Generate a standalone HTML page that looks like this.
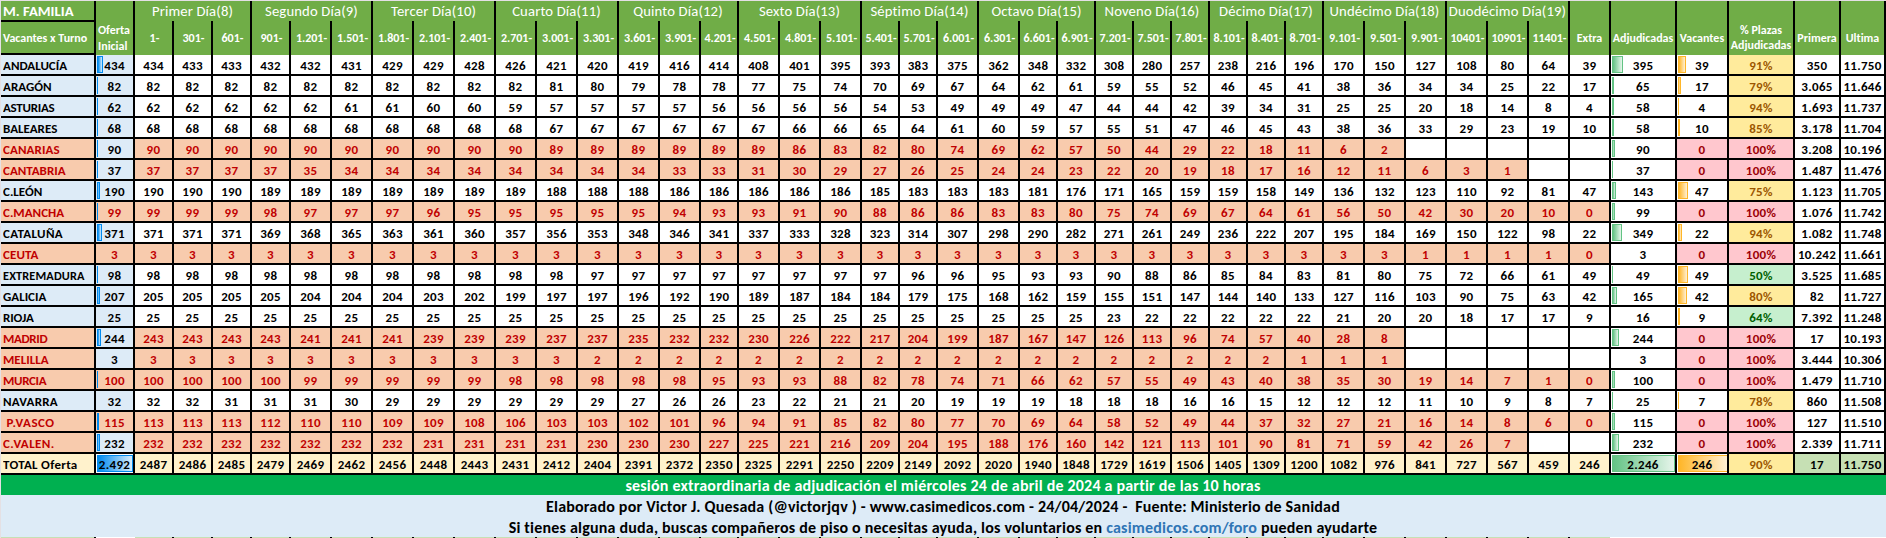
<!DOCTYPE html><html><head><meta charset="utf-8"><title>M. FAMILIA</title><style>
*{margin:0;padding:0}
html,body{width:1886px;height:538px;overflow:hidden;background:#fff}
body{position:relative;font-variant-ligatures:none;font-feature-settings:'liga' 0,'clig' 0;font-family:Carlito,"Liberation Sans",sans-serif;font-weight:700;font-size:13px}
#g{position:absolute;left:0;top:0;width:1886px;height:538px;background:#fff}
i,b{position:absolute;display:block;font-style:normal}
b{white-space:nowrap;text-align:center;overflow:visible;color:#000}
b.tl{text-align:left;letter-spacing:0;transform:scaleY(0.9);transform-origin:50% 12px}
b.t{letter-spacing:0.3px;transform:scaleY(0.9);transform-origin:50% 12px}
b.hl{text-align:left;color:#fff;font-size:12px}
b.hc{color:#fff;font-size:12px}
b.hd{font-weight:400;font-size:14.67px;color:#fff;letter-spacing:0.15px}
b.hm{font-size:14.67px;color:#fff;text-align:left}
b.hs{color:#fff;font-size:12px}
b.hp{color:#fff;font-size:12px}
b.ft{font-size:16px;letter-spacing:0.2px}
u{text-decoration:none;color:#2F75B5}
body.nc b{transform:scaleX(0.9)}
body.nc b.tl,body.nc b.hl,body.nc b.hm{transform-origin:0 50%}
body.nc b.t{transform:scale(0.9,0.9)}
body.nc b.tl{transform:scale(0.9,0.9);transform-origin:0 12px}
</style></head><body><div id="g"><i style="left:0;top:0;width:1886px;height:1px;background:#E4E0E4"></i><i style="left:0;top:0;width:1px;height:538px;background:#E4E0E4"></i><i style="left:1px;top:1px;width:1883px;height:54px;background:#70AD47"></i><b class="hm" style="left:3px;top:2px;width:90px;height:18px;line-height:18px">M. FAMILIA</b><i style="left:1px;top:20px;width:93px;height:2px;background:#000"></i><b class="hl" style="left:3px;top:31px;width:90px;height:14px;line-height:14px">Vacantes x Turno</b><i style="left:1px;top:53px;width:93px;height:2px;background:#000"></i><b class="hl" style="left:98px;top:23px;width:37px;height:14px;line-height:14px">Oferta</b><b class="hl" style="left:98px;top:39px;width:37px;height:14px;line-height:14px">Inicial</b><b class="hd" style="left:135px;top:2px;width:115px;height:18px;line-height:18px">Primer Día(8)</b><b class="hd" style="left:252px;top:2px;width:119px;height:18px;line-height:18px">Segundo Día(9)</b><b class="hd" style="left:373px;top:2px;width:121px;height:18px;line-height:18px">Tercer Día(10)</b><b class="hd" style="left:496px;top:2px;width:121px;height:18px;line-height:18px">Cuarto Día(11)</b><b class="hd" style="left:619px;top:2px;width:118px;height:18px;line-height:18px">Quinto Día(12)</b><b class="hd" style="left:739px;top:2px;width:121px;height:18px;line-height:18px">Sexto Día(13)</b><b class="hd" style="left:862px;top:2px;width:115px;height:18px;line-height:18px">Séptimo Día(14)</b><b class="hd" style="left:979px;top:2px;width:115px;height:18px;line-height:18px">Octavo Día(15)</b><b class="hd" style="left:1096px;top:2px;width:112px;height:18px;line-height:18px">Noveno Día(16)</b><b class="hd" style="left:1210px;top:2px;width:112px;height:18px;line-height:18px">Décimo Día(17)</b><b class="hd" style="left:1324px;top:2px;width:121px;height:18px;line-height:18px">Undécimo Día(18)</b><b class="hd" style="left:1447px;top:2px;width:121px;height:18px;line-height:18px">Duodécimo Día(19)</b><b class="hs" style="left:136px;top:31px;width:37px;height:14px;line-height:14px">1-</b><b class="hs" style="left:175px;top:31px;width:37px;height:14px;line-height:14px">301-</b><b class="hs" style="left:214px;top:31px;width:37px;height:14px;line-height:14px">601-</b><b class="hs" style="left:253px;top:31px;width:37px;height:14px;line-height:14px">901-</b><b class="hs" style="left:292px;top:31px;width:39px;height:14px;line-height:14px">1.201-</b><b class="hs" style="left:333px;top:31px;width:39px;height:14px;line-height:14px">1.501-</b><b class="hs" style="left:374px;top:31px;width:39px;height:14px;line-height:14px">1.801-</b><b class="hs" style="left:415px;top:31px;width:39px;height:14px;line-height:14px">2.101-</b><b class="hs" style="left:456px;top:31px;width:39px;height:14px;line-height:14px">2.401-</b><b class="hs" style="left:497px;top:31px;width:39px;height:14px;line-height:14px">2.701-</b><b class="hs" style="left:538px;top:31px;width:39px;height:14px;line-height:14px">3.001-</b><b class="hs" style="left:579px;top:31px;width:39px;height:14px;line-height:14px">3.301-</b><b class="hs" style="left:620px;top:31px;width:39px;height:14px;line-height:14px">3.601-</b><b class="hs" style="left:661px;top:31px;width:39px;height:14px;line-height:14px">3.901-</b><b class="hs" style="left:702px;top:31px;width:36px;height:14px;line-height:14px">4.201-</b><b class="hs" style="left:740px;top:31px;width:39px;height:14px;line-height:14px">4.501-</b><b class="hs" style="left:781px;top:31px;width:39px;height:14px;line-height:14px">4.801-</b><b class="hs" style="left:822px;top:31px;width:39px;height:14px;line-height:14px">5.101-</b><b class="hs" style="left:863px;top:31px;width:36px;height:14px;line-height:14px">5.401-</b><b class="hs" style="left:901px;top:31px;width:36px;height:14px;line-height:14px">5.701-</b><b class="hs" style="left:939px;top:31px;width:39px;height:14px;line-height:14px">6.001-</b><b class="hs" style="left:980px;top:31px;width:39px;height:14px;line-height:14px">6.301-</b><b class="hs" style="left:1021px;top:31px;width:36px;height:14px;line-height:14px">6.601-</b><b class="hs" style="left:1059px;top:31px;width:36px;height:14px;line-height:14px">6.901-</b><b class="hs" style="left:1097px;top:31px;width:36px;height:14px;line-height:14px">7.201-</b><b class="hs" style="left:1135px;top:31px;width:36px;height:14px;line-height:14px">7.501-</b><b class="hs" style="left:1173px;top:31px;width:36px;height:14px;line-height:14px">7.801-</b><b class="hs" style="left:1211px;top:31px;width:36px;height:14px;line-height:14px">8.101-</b><b class="hs" style="left:1249px;top:31px;width:36px;height:14px;line-height:14px">8.401-</b><b class="hs" style="left:1287px;top:31px;width:36px;height:14px;line-height:14px">8.701-</b><b class="hs" style="left:1325px;top:31px;width:39px;height:14px;line-height:14px">9.101-</b><b class="hs" style="left:1366px;top:31px;width:39px;height:14px;line-height:14px">9.501-</b><b class="hs" style="left:1407px;top:31px;width:39px;height:14px;line-height:14px">9.901-</b><b class="hs" style="left:1448px;top:31px;width:39px;height:14px;line-height:14px">10401-</b><b class="hs" style="left:1489px;top:31px;width:39px;height:14px;line-height:14px">10901-</b><b class="hs" style="left:1530px;top:31px;width:39px;height:14px;line-height:14px">11401-</b><b class="hc" style="left:1570px;top:31px;width:39px;height:14px;line-height:14px">Extra</b><b class="hc" style="left:1611px;top:31px;width:64px;height:14px;line-height:14px">Adjudicadas</b><b class="hc" style="left:1677px;top:31px;width:50px;height:14px;line-height:14px">Vacantes</b><b class="hc" style="left:1795px;top:31px;width:44px;height:14px;line-height:14px">Primera</b><b class="hc" style="left:1841px;top:31px;width:43px;height:14px;line-height:14px">Ultima</b><b class="hp" style="left:1729px;top:23px;width:64px;height:14px;line-height:14px">% Plazas</b><b class="hp" style="left:1729px;top:38px;width:64px;height:14px;line-height:14px">Adjudicadas</b><i style="left:1px;top:55px;width:93px;height:19px;background:#DDEBF7"></i><b class="tl" style="left:3px;top:58px;width:91px;height:15px;line-height:15px;color:#000">ANDALUCÍA</b><i style="left:96px;top:55px;width:37px;height:19px;background:#DDEBF7"></i><i style="left:97px;top:56px;width:4px;height:15px;border:1px solid #008AEF;background:linear-gradient(90deg,#008AEF,#D6ECFC)"></i><b class="t" style="left:96px;top:58px;width:37px;height:15px;line-height:15px;color:#000">434</b><b class="t" style="left:135px;top:58px;width:37px;height:15px;line-height:15px">434</b><b class="t" style="left:174px;top:58px;width:37px;height:15px;line-height:15px">433</b><b class="t" style="left:213px;top:58px;width:37px;height:15px;line-height:15px">433</b><b class="t" style="left:252px;top:58px;width:37px;height:15px;line-height:15px">432</b><b class="t" style="left:291px;top:58px;width:39px;height:15px;line-height:15px">432</b><b class="t" style="left:332px;top:58px;width:39px;height:15px;line-height:15px">431</b><b class="t" style="left:373px;top:58px;width:39px;height:15px;line-height:15px">429</b><b class="t" style="left:414px;top:58px;width:39px;height:15px;line-height:15px">429</b><b class="t" style="left:455px;top:58px;width:39px;height:15px;line-height:15px">428</b><b class="t" style="left:496px;top:58px;width:39px;height:15px;line-height:15px">426</b><b class="t" style="left:537px;top:58px;width:39px;height:15px;line-height:15px">421</b><b class="t" style="left:578px;top:58px;width:39px;height:15px;line-height:15px">420</b><b class="t" style="left:619px;top:58px;width:39px;height:15px;line-height:15px">419</b><b class="t" style="left:660px;top:58px;width:39px;height:15px;line-height:15px">416</b><b class="t" style="left:701px;top:58px;width:36px;height:15px;line-height:15px">414</b><b class="t" style="left:739px;top:58px;width:39px;height:15px;line-height:15px">408</b><b class="t" style="left:780px;top:58px;width:39px;height:15px;line-height:15px">401</b><b class="t" style="left:821px;top:58px;width:39px;height:15px;line-height:15px">395</b><b class="t" style="left:862px;top:58px;width:36px;height:15px;line-height:15px">393</b><b class="t" style="left:900px;top:58px;width:36px;height:15px;line-height:15px">383</b><b class="t" style="left:938px;top:58px;width:39px;height:15px;line-height:15px">375</b><b class="t" style="left:979px;top:58px;width:39px;height:15px;line-height:15px">362</b><b class="t" style="left:1020px;top:58px;width:36px;height:15px;line-height:15px">348</b><b class="t" style="left:1058px;top:58px;width:36px;height:15px;line-height:15px">332</b><b class="t" style="left:1096px;top:58px;width:36px;height:15px;line-height:15px">308</b><b class="t" style="left:1134px;top:58px;width:36px;height:15px;line-height:15px">280</b><b class="t" style="left:1172px;top:58px;width:36px;height:15px;line-height:15px">257</b><b class="t" style="left:1210px;top:58px;width:36px;height:15px;line-height:15px">238</b><b class="t" style="left:1248px;top:58px;width:36px;height:15px;line-height:15px">216</b><b class="t" style="left:1286px;top:58px;width:36px;height:15px;line-height:15px">196</b><b class="t" style="left:1324px;top:58px;width:39px;height:15px;line-height:15px">170</b><b class="t" style="left:1365px;top:58px;width:39px;height:15px;line-height:15px">150</b><b class="t" style="left:1406px;top:58px;width:39px;height:15px;line-height:15px">127</b><b class="t" style="left:1447px;top:58px;width:39px;height:15px;line-height:15px">108</b><b class="t" style="left:1488px;top:58px;width:39px;height:15px;line-height:15px">80</b><b class="t" style="left:1529px;top:58px;width:39px;height:15px;line-height:15px">64</b><b class="t" style="left:1570px;top:58px;width:39px;height:15px;line-height:15px">39</b><i style="left:1612px;top:56px;width:9px;height:15px;border:1px solid #63C384;background:linear-gradient(90deg,#63C384,#E6F5EB)"></i><b class="t" style="left:1611px;top:58px;width:64px;height:15px;line-height:15px">395</b><i style="left:1678px;top:56px;width:6px;height:15px;border:1px solid #FFB628;background:linear-gradient(90deg,#FFB628,#FFF0D4)"></i><b class="t" style="left:1677px;top:58px;width:50px;height:15px;line-height:15px">39</b><i style="left:1729px;top:55px;width:64px;height:19px;background:#FFEB9C"></i><b class="t" style="left:1729px;top:58px;width:64px;height:15px;line-height:15px;color:#9C5700">91%</b><b class="t" style="left:1795px;top:58px;width:44px;height:15px;line-height:15px">350</b><b class="t" style="left:1841px;top:58px;width:43px;height:15px;line-height:15px">11.750</b><i style="left:1px;top:74px;width:1885px;height:2px;background:#000"></i><i style="left:1px;top:76px;width:93px;height:19px;background:#DDEBF7"></i><b class="tl" style="left:3px;top:79px;width:91px;height:15px;line-height:15px;color:#000">ARAGÓN</b><i style="left:96px;top:76px;width:37px;height:19px;background:#DDEBF7"></i><i style="left:97px;top:77px;width:1px;height:17px;background:#008AEF"></i><b class="t" style="left:96px;top:79px;width:37px;height:15px;line-height:15px;color:#000">82</b><b class="t" style="left:135px;top:79px;width:37px;height:15px;line-height:15px">82</b><b class="t" style="left:174px;top:79px;width:37px;height:15px;line-height:15px">82</b><b class="t" style="left:213px;top:79px;width:37px;height:15px;line-height:15px">82</b><b class="t" style="left:252px;top:79px;width:37px;height:15px;line-height:15px">82</b><b class="t" style="left:291px;top:79px;width:39px;height:15px;line-height:15px">82</b><b class="t" style="left:332px;top:79px;width:39px;height:15px;line-height:15px">82</b><b class="t" style="left:373px;top:79px;width:39px;height:15px;line-height:15px">82</b><b class="t" style="left:414px;top:79px;width:39px;height:15px;line-height:15px">82</b><b class="t" style="left:455px;top:79px;width:39px;height:15px;line-height:15px">82</b><b class="t" style="left:496px;top:79px;width:39px;height:15px;line-height:15px">82</b><b class="t" style="left:537px;top:79px;width:39px;height:15px;line-height:15px">81</b><b class="t" style="left:578px;top:79px;width:39px;height:15px;line-height:15px">80</b><b class="t" style="left:619px;top:79px;width:39px;height:15px;line-height:15px">79</b><b class="t" style="left:660px;top:79px;width:39px;height:15px;line-height:15px">78</b><b class="t" style="left:701px;top:79px;width:36px;height:15px;line-height:15px">78</b><b class="t" style="left:739px;top:79px;width:39px;height:15px;line-height:15px">77</b><b class="t" style="left:780px;top:79px;width:39px;height:15px;line-height:15px">75</b><b class="t" style="left:821px;top:79px;width:39px;height:15px;line-height:15px">74</b><b class="t" style="left:862px;top:79px;width:36px;height:15px;line-height:15px">70</b><b class="t" style="left:900px;top:79px;width:36px;height:15px;line-height:15px">69</b><b class="t" style="left:938px;top:79px;width:39px;height:15px;line-height:15px">67</b><b class="t" style="left:979px;top:79px;width:39px;height:15px;line-height:15px">64</b><b class="t" style="left:1020px;top:79px;width:36px;height:15px;line-height:15px">62</b><b class="t" style="left:1058px;top:79px;width:36px;height:15px;line-height:15px">61</b><b class="t" style="left:1096px;top:79px;width:36px;height:15px;line-height:15px">59</b><b class="t" style="left:1134px;top:79px;width:36px;height:15px;line-height:15px">55</b><b class="t" style="left:1172px;top:79px;width:36px;height:15px;line-height:15px">52</b><b class="t" style="left:1210px;top:79px;width:36px;height:15px;line-height:15px">46</b><b class="t" style="left:1248px;top:79px;width:36px;height:15px;line-height:15px">45</b><b class="t" style="left:1286px;top:79px;width:36px;height:15px;line-height:15px">41</b><b class="t" style="left:1324px;top:79px;width:39px;height:15px;line-height:15px">38</b><b class="t" style="left:1365px;top:79px;width:39px;height:15px;line-height:15px">36</b><b class="t" style="left:1406px;top:79px;width:39px;height:15px;line-height:15px">34</b><b class="t" style="left:1447px;top:79px;width:39px;height:15px;line-height:15px">34</b><b class="t" style="left:1488px;top:79px;width:39px;height:15px;line-height:15px">25</b><b class="t" style="left:1529px;top:79px;width:39px;height:15px;line-height:15px">22</b><b class="t" style="left:1570px;top:79px;width:39px;height:15px;line-height:15px">17</b><i style="left:1612px;top:77px;width:2px;height:17px;background:#63C384"></i><b class="t" style="left:1611px;top:79px;width:64px;height:15px;line-height:15px">65</b><i style="left:1678px;top:77px;width:1px;height:15px;border:1px solid #FFB628;background:linear-gradient(90deg,#FFB628,#FFF0D4)"></i><b class="t" style="left:1677px;top:79px;width:50px;height:15px;line-height:15px">17</b><i style="left:1729px;top:76px;width:64px;height:19px;background:#FFEB9C"></i><b class="t" style="left:1729px;top:79px;width:64px;height:15px;line-height:15px;color:#9C5700">79%</b><b class="t" style="left:1795px;top:79px;width:44px;height:15px;line-height:15px">3.065</b><b class="t" style="left:1841px;top:79px;width:43px;height:15px;line-height:15px">11.646</b><i style="left:1px;top:95px;width:1885px;height:2px;background:#000"></i><i style="left:1px;top:97px;width:93px;height:19px;background:#DDEBF7"></i><b class="tl" style="left:3px;top:100px;width:91px;height:15px;line-height:15px;color:#000;letter-spacing:-0.27px">ASTURIAS</b><i style="left:96px;top:97px;width:37px;height:19px;background:#DDEBF7"></i><i style="left:97px;top:98px;width:1px;height:17px;background:#008AEF"></i><b class="t" style="left:96px;top:100px;width:37px;height:15px;line-height:15px;color:#000">62</b><b class="t" style="left:135px;top:100px;width:37px;height:15px;line-height:15px">62</b><b class="t" style="left:174px;top:100px;width:37px;height:15px;line-height:15px">62</b><b class="t" style="left:213px;top:100px;width:37px;height:15px;line-height:15px">62</b><b class="t" style="left:252px;top:100px;width:37px;height:15px;line-height:15px">62</b><b class="t" style="left:291px;top:100px;width:39px;height:15px;line-height:15px">62</b><b class="t" style="left:332px;top:100px;width:39px;height:15px;line-height:15px">61</b><b class="t" style="left:373px;top:100px;width:39px;height:15px;line-height:15px">61</b><b class="t" style="left:414px;top:100px;width:39px;height:15px;line-height:15px">60</b><b class="t" style="left:455px;top:100px;width:39px;height:15px;line-height:15px">60</b><b class="t" style="left:496px;top:100px;width:39px;height:15px;line-height:15px">59</b><b class="t" style="left:537px;top:100px;width:39px;height:15px;line-height:15px">57</b><b class="t" style="left:578px;top:100px;width:39px;height:15px;line-height:15px">57</b><b class="t" style="left:619px;top:100px;width:39px;height:15px;line-height:15px">57</b><b class="t" style="left:660px;top:100px;width:39px;height:15px;line-height:15px">57</b><b class="t" style="left:701px;top:100px;width:36px;height:15px;line-height:15px">56</b><b class="t" style="left:739px;top:100px;width:39px;height:15px;line-height:15px">56</b><b class="t" style="left:780px;top:100px;width:39px;height:15px;line-height:15px">56</b><b class="t" style="left:821px;top:100px;width:39px;height:15px;line-height:15px">56</b><b class="t" style="left:862px;top:100px;width:36px;height:15px;line-height:15px">54</b><b class="t" style="left:900px;top:100px;width:36px;height:15px;line-height:15px">53</b><b class="t" style="left:938px;top:100px;width:39px;height:15px;line-height:15px">49</b><b class="t" style="left:979px;top:100px;width:39px;height:15px;line-height:15px">49</b><b class="t" style="left:1020px;top:100px;width:36px;height:15px;line-height:15px">49</b><b class="t" style="left:1058px;top:100px;width:36px;height:15px;line-height:15px">47</b><b class="t" style="left:1096px;top:100px;width:36px;height:15px;line-height:15px">44</b><b class="t" style="left:1134px;top:100px;width:36px;height:15px;line-height:15px">44</b><b class="t" style="left:1172px;top:100px;width:36px;height:15px;line-height:15px">42</b><b class="t" style="left:1210px;top:100px;width:36px;height:15px;line-height:15px">39</b><b class="t" style="left:1248px;top:100px;width:36px;height:15px;line-height:15px">34</b><b class="t" style="left:1286px;top:100px;width:36px;height:15px;line-height:15px">31</b><b class="t" style="left:1324px;top:100px;width:39px;height:15px;line-height:15px">25</b><b class="t" style="left:1365px;top:100px;width:39px;height:15px;line-height:15px">25</b><b class="t" style="left:1406px;top:100px;width:39px;height:15px;line-height:15px">20</b><b class="t" style="left:1447px;top:100px;width:39px;height:15px;line-height:15px">18</b><b class="t" style="left:1488px;top:100px;width:39px;height:15px;line-height:15px">14</b><b class="t" style="left:1529px;top:100px;width:39px;height:15px;line-height:15px">8</b><b class="t" style="left:1570px;top:100px;width:39px;height:15px;line-height:15px">4</b><i style="left:1612px;top:98px;width:2px;height:17px;background:#63C384"></i><b class="t" style="left:1611px;top:100px;width:64px;height:15px;line-height:15px">58</b><i style="left:1678px;top:98px;width:1px;height:17px;background:#FFB628"></i><b class="t" style="left:1677px;top:100px;width:50px;height:15px;line-height:15px">4</b><i style="left:1729px;top:97px;width:64px;height:19px;background:#FFEB9C"></i><b class="t" style="left:1729px;top:100px;width:64px;height:15px;line-height:15px;color:#9C5700">94%</b><b class="t" style="left:1795px;top:100px;width:44px;height:15px;line-height:15px">1.693</b><b class="t" style="left:1841px;top:100px;width:43px;height:15px;line-height:15px">11.737</b><i style="left:1px;top:116px;width:1885px;height:2px;background:#000"></i><i style="left:1px;top:118px;width:93px;height:19px;background:#DDEBF7"></i><b class="tl" style="left:3px;top:121px;width:91px;height:15px;line-height:15px;color:#000">BALEARES</b><i style="left:96px;top:118px;width:37px;height:19px;background:#DDEBF7"></i><i style="left:97px;top:119px;width:1px;height:17px;background:#008AEF"></i><b class="t" style="left:96px;top:121px;width:37px;height:15px;line-height:15px;color:#000">68</b><b class="t" style="left:135px;top:121px;width:37px;height:15px;line-height:15px">68</b><b class="t" style="left:174px;top:121px;width:37px;height:15px;line-height:15px">68</b><b class="t" style="left:213px;top:121px;width:37px;height:15px;line-height:15px">68</b><b class="t" style="left:252px;top:121px;width:37px;height:15px;line-height:15px">68</b><b class="t" style="left:291px;top:121px;width:39px;height:15px;line-height:15px">68</b><b class="t" style="left:332px;top:121px;width:39px;height:15px;line-height:15px">68</b><b class="t" style="left:373px;top:121px;width:39px;height:15px;line-height:15px">68</b><b class="t" style="left:414px;top:121px;width:39px;height:15px;line-height:15px">68</b><b class="t" style="left:455px;top:121px;width:39px;height:15px;line-height:15px">68</b><b class="t" style="left:496px;top:121px;width:39px;height:15px;line-height:15px">68</b><b class="t" style="left:537px;top:121px;width:39px;height:15px;line-height:15px">67</b><b class="t" style="left:578px;top:121px;width:39px;height:15px;line-height:15px">67</b><b class="t" style="left:619px;top:121px;width:39px;height:15px;line-height:15px">67</b><b class="t" style="left:660px;top:121px;width:39px;height:15px;line-height:15px">67</b><b class="t" style="left:701px;top:121px;width:36px;height:15px;line-height:15px">67</b><b class="t" style="left:739px;top:121px;width:39px;height:15px;line-height:15px">67</b><b class="t" style="left:780px;top:121px;width:39px;height:15px;line-height:15px">66</b><b class="t" style="left:821px;top:121px;width:39px;height:15px;line-height:15px">66</b><b class="t" style="left:862px;top:121px;width:36px;height:15px;line-height:15px">65</b><b class="t" style="left:900px;top:121px;width:36px;height:15px;line-height:15px">64</b><b class="t" style="left:938px;top:121px;width:39px;height:15px;line-height:15px">61</b><b class="t" style="left:979px;top:121px;width:39px;height:15px;line-height:15px">60</b><b class="t" style="left:1020px;top:121px;width:36px;height:15px;line-height:15px">59</b><b class="t" style="left:1058px;top:121px;width:36px;height:15px;line-height:15px">57</b><b class="t" style="left:1096px;top:121px;width:36px;height:15px;line-height:15px">55</b><b class="t" style="left:1134px;top:121px;width:36px;height:15px;line-height:15px">51</b><b class="t" style="left:1172px;top:121px;width:36px;height:15px;line-height:15px">47</b><b class="t" style="left:1210px;top:121px;width:36px;height:15px;line-height:15px">46</b><b class="t" style="left:1248px;top:121px;width:36px;height:15px;line-height:15px">45</b><b class="t" style="left:1286px;top:121px;width:36px;height:15px;line-height:15px">43</b><b class="t" style="left:1324px;top:121px;width:39px;height:15px;line-height:15px">38</b><b class="t" style="left:1365px;top:121px;width:39px;height:15px;line-height:15px">36</b><b class="t" style="left:1406px;top:121px;width:39px;height:15px;line-height:15px">33</b><b class="t" style="left:1447px;top:121px;width:39px;height:15px;line-height:15px">29</b><b class="t" style="left:1488px;top:121px;width:39px;height:15px;line-height:15px">23</b><b class="t" style="left:1529px;top:121px;width:39px;height:15px;line-height:15px">19</b><b class="t" style="left:1570px;top:121px;width:39px;height:15px;line-height:15px">10</b><i style="left:1612px;top:119px;width:2px;height:17px;background:#63C384"></i><b class="t" style="left:1611px;top:121px;width:64px;height:15px;line-height:15px">58</b><i style="left:1678px;top:119px;width:2px;height:17px;background:#FFB628"></i><b class="t" style="left:1677px;top:121px;width:50px;height:15px;line-height:15px">10</b><i style="left:1729px;top:118px;width:64px;height:19px;background:#FFEB9C"></i><b class="t" style="left:1729px;top:121px;width:64px;height:15px;line-height:15px;color:#9C5700">85%</b><b class="t" style="left:1795px;top:121px;width:44px;height:15px;line-height:15px">3.178</b><b class="t" style="left:1841px;top:121px;width:43px;height:15px;line-height:15px">11.704</b><i style="left:1px;top:137px;width:1885px;height:2px;background:#000"></i><i style="left:1px;top:139px;width:93px;height:19px;background:#F8CBAD"></i><b class="tl" style="left:3px;top:142px;width:91px;height:15px;line-height:15px;color:#C00000;letter-spacing:0.1px">CANARIAS</b><i style="left:96px;top:139px;width:37px;height:19px;background:#DDEBF7"></i><i style="left:97px;top:140px;width:1px;height:17px;background:#008AEF"></i><b class="t" style="left:96px;top:142px;width:37px;height:15px;line-height:15px;color:#000">90</b><i style="left:135px;top:139px;width:37px;height:19px;background:#F8CBAD"></i><b class="t" style="left:135px;top:142px;width:37px;height:15px;line-height:15px;color:#C00000">90</b><i style="left:174px;top:139px;width:37px;height:19px;background:#F8CBAD"></i><b class="t" style="left:174px;top:142px;width:37px;height:15px;line-height:15px;color:#C00000">90</b><i style="left:213px;top:139px;width:37px;height:19px;background:#F8CBAD"></i><b class="t" style="left:213px;top:142px;width:37px;height:15px;line-height:15px;color:#C00000">90</b><i style="left:252px;top:139px;width:37px;height:19px;background:#F8CBAD"></i><b class="t" style="left:252px;top:142px;width:37px;height:15px;line-height:15px;color:#C00000">90</b><i style="left:291px;top:139px;width:39px;height:19px;background:#F8CBAD"></i><b class="t" style="left:291px;top:142px;width:39px;height:15px;line-height:15px;color:#C00000">90</b><i style="left:332px;top:139px;width:39px;height:19px;background:#F8CBAD"></i><b class="t" style="left:332px;top:142px;width:39px;height:15px;line-height:15px;color:#C00000">90</b><i style="left:373px;top:139px;width:39px;height:19px;background:#F8CBAD"></i><b class="t" style="left:373px;top:142px;width:39px;height:15px;line-height:15px;color:#C00000">90</b><i style="left:414px;top:139px;width:39px;height:19px;background:#F8CBAD"></i><b class="t" style="left:414px;top:142px;width:39px;height:15px;line-height:15px;color:#C00000">90</b><i style="left:455px;top:139px;width:39px;height:19px;background:#F8CBAD"></i><b class="t" style="left:455px;top:142px;width:39px;height:15px;line-height:15px;color:#C00000">90</b><i style="left:496px;top:139px;width:39px;height:19px;background:#F8CBAD"></i><b class="t" style="left:496px;top:142px;width:39px;height:15px;line-height:15px;color:#C00000">90</b><i style="left:537px;top:139px;width:39px;height:19px;background:#F8CBAD"></i><b class="t" style="left:537px;top:142px;width:39px;height:15px;line-height:15px;color:#C00000">89</b><i style="left:578px;top:139px;width:39px;height:19px;background:#F8CBAD"></i><b class="t" style="left:578px;top:142px;width:39px;height:15px;line-height:15px;color:#C00000">89</b><i style="left:619px;top:139px;width:39px;height:19px;background:#F8CBAD"></i><b class="t" style="left:619px;top:142px;width:39px;height:15px;line-height:15px;color:#C00000">89</b><i style="left:660px;top:139px;width:39px;height:19px;background:#F8CBAD"></i><b class="t" style="left:660px;top:142px;width:39px;height:15px;line-height:15px;color:#C00000">89</b><i style="left:701px;top:139px;width:36px;height:19px;background:#F8CBAD"></i><b class="t" style="left:701px;top:142px;width:36px;height:15px;line-height:15px;color:#C00000">89</b><i style="left:739px;top:139px;width:39px;height:19px;background:#F8CBAD"></i><b class="t" style="left:739px;top:142px;width:39px;height:15px;line-height:15px;color:#C00000">89</b><i style="left:780px;top:139px;width:39px;height:19px;background:#F8CBAD"></i><b class="t" style="left:780px;top:142px;width:39px;height:15px;line-height:15px;color:#C00000">86</b><i style="left:821px;top:139px;width:39px;height:19px;background:#F8CBAD"></i><b class="t" style="left:821px;top:142px;width:39px;height:15px;line-height:15px;color:#C00000">83</b><i style="left:862px;top:139px;width:36px;height:19px;background:#F8CBAD"></i><b class="t" style="left:862px;top:142px;width:36px;height:15px;line-height:15px;color:#C00000">82</b><i style="left:900px;top:139px;width:36px;height:19px;background:#F8CBAD"></i><b class="t" style="left:900px;top:142px;width:36px;height:15px;line-height:15px;color:#C00000">80</b><i style="left:938px;top:139px;width:39px;height:19px;background:#F8CBAD"></i><b class="t" style="left:938px;top:142px;width:39px;height:15px;line-height:15px;color:#C00000">74</b><i style="left:979px;top:139px;width:39px;height:19px;background:#F8CBAD"></i><b class="t" style="left:979px;top:142px;width:39px;height:15px;line-height:15px;color:#C00000">69</b><i style="left:1020px;top:139px;width:36px;height:19px;background:#F8CBAD"></i><b class="t" style="left:1020px;top:142px;width:36px;height:15px;line-height:15px;color:#C00000">62</b><i style="left:1058px;top:139px;width:36px;height:19px;background:#F8CBAD"></i><b class="t" style="left:1058px;top:142px;width:36px;height:15px;line-height:15px;color:#C00000">57</b><i style="left:1096px;top:139px;width:36px;height:19px;background:#F8CBAD"></i><b class="t" style="left:1096px;top:142px;width:36px;height:15px;line-height:15px;color:#C00000">50</b><i style="left:1134px;top:139px;width:36px;height:19px;background:#F8CBAD"></i><b class="t" style="left:1134px;top:142px;width:36px;height:15px;line-height:15px;color:#C00000">44</b><i style="left:1172px;top:139px;width:36px;height:19px;background:#F8CBAD"></i><b class="t" style="left:1172px;top:142px;width:36px;height:15px;line-height:15px;color:#C00000">29</b><i style="left:1210px;top:139px;width:36px;height:19px;background:#F8CBAD"></i><b class="t" style="left:1210px;top:142px;width:36px;height:15px;line-height:15px;color:#C00000">22</b><i style="left:1248px;top:139px;width:36px;height:19px;background:#F8CBAD"></i><b class="t" style="left:1248px;top:142px;width:36px;height:15px;line-height:15px;color:#C00000">18</b><i style="left:1286px;top:139px;width:36px;height:19px;background:#F8CBAD"></i><b class="t" style="left:1286px;top:142px;width:36px;height:15px;line-height:15px;color:#C00000">11</b><i style="left:1324px;top:139px;width:39px;height:19px;background:#F8CBAD"></i><b class="t" style="left:1324px;top:142px;width:39px;height:15px;line-height:15px;color:#C00000">6</b><i style="left:1365px;top:139px;width:39px;height:19px;background:#F8CBAD"></i><b class="t" style="left:1365px;top:142px;width:39px;height:15px;line-height:15px;color:#C00000">2</b><i style="left:1612px;top:140px;width:1px;height:15px;border:1px solid #63C384;background:linear-gradient(90deg,#63C384,#E6F5EB)"></i><b class="t" style="left:1611px;top:142px;width:64px;height:15px;line-height:15px">90</b><i style="left:1677px;top:139px;width:50px;height:19px;background:#FFC7CE"></i><b class="t" style="left:1677px;top:142px;width:50px;height:15px;line-height:15px;color:#9C0006">0</b><i style="left:1729px;top:139px;width:64px;height:19px;background:#FFC7CE"></i><b class="t" style="left:1729px;top:142px;width:64px;height:15px;line-height:15px;color:#9C0006">100%</b><b class="t" style="left:1795px;top:142px;width:44px;height:15px;line-height:15px">3.208</b><b class="t" style="left:1841px;top:142px;width:43px;height:15px;line-height:15px">10.196</b><i style="left:1px;top:158px;width:1885px;height:2px;background:#000"></i><i style="left:1px;top:160px;width:93px;height:19px;background:#F8CBAD"></i><b class="tl" style="left:3px;top:163px;width:91px;height:15px;line-height:15px;color:#C00000">CANTABRIA</b><i style="left:96px;top:160px;width:37px;height:19px;background:#DDEBF7"></i><i style="left:97px;top:161px;width:1px;height:17px;background:#008AEF"></i><b class="t" style="left:96px;top:163px;width:37px;height:15px;line-height:15px;color:#000">37</b><i style="left:135px;top:160px;width:37px;height:19px;background:#F8CBAD"></i><b class="t" style="left:135px;top:163px;width:37px;height:15px;line-height:15px;color:#C00000">37</b><i style="left:174px;top:160px;width:37px;height:19px;background:#F8CBAD"></i><b class="t" style="left:174px;top:163px;width:37px;height:15px;line-height:15px;color:#C00000">37</b><i style="left:213px;top:160px;width:37px;height:19px;background:#F8CBAD"></i><b class="t" style="left:213px;top:163px;width:37px;height:15px;line-height:15px;color:#C00000">37</b><i style="left:252px;top:160px;width:37px;height:19px;background:#F8CBAD"></i><b class="t" style="left:252px;top:163px;width:37px;height:15px;line-height:15px;color:#C00000">37</b><i style="left:291px;top:160px;width:39px;height:19px;background:#F8CBAD"></i><b class="t" style="left:291px;top:163px;width:39px;height:15px;line-height:15px;color:#C00000">35</b><i style="left:332px;top:160px;width:39px;height:19px;background:#F8CBAD"></i><b class="t" style="left:332px;top:163px;width:39px;height:15px;line-height:15px;color:#C00000">34</b><i style="left:373px;top:160px;width:39px;height:19px;background:#F8CBAD"></i><b class="t" style="left:373px;top:163px;width:39px;height:15px;line-height:15px;color:#C00000">34</b><i style="left:414px;top:160px;width:39px;height:19px;background:#F8CBAD"></i><b class="t" style="left:414px;top:163px;width:39px;height:15px;line-height:15px;color:#C00000">34</b><i style="left:455px;top:160px;width:39px;height:19px;background:#F8CBAD"></i><b class="t" style="left:455px;top:163px;width:39px;height:15px;line-height:15px;color:#C00000">34</b><i style="left:496px;top:160px;width:39px;height:19px;background:#F8CBAD"></i><b class="t" style="left:496px;top:163px;width:39px;height:15px;line-height:15px;color:#C00000">34</b><i style="left:537px;top:160px;width:39px;height:19px;background:#F8CBAD"></i><b class="t" style="left:537px;top:163px;width:39px;height:15px;line-height:15px;color:#C00000">34</b><i style="left:578px;top:160px;width:39px;height:19px;background:#F8CBAD"></i><b class="t" style="left:578px;top:163px;width:39px;height:15px;line-height:15px;color:#C00000">34</b><i style="left:619px;top:160px;width:39px;height:19px;background:#F8CBAD"></i><b class="t" style="left:619px;top:163px;width:39px;height:15px;line-height:15px;color:#C00000">34</b><i style="left:660px;top:160px;width:39px;height:19px;background:#F8CBAD"></i><b class="t" style="left:660px;top:163px;width:39px;height:15px;line-height:15px;color:#C00000">33</b><i style="left:701px;top:160px;width:36px;height:19px;background:#F8CBAD"></i><b class="t" style="left:701px;top:163px;width:36px;height:15px;line-height:15px;color:#C00000">33</b><i style="left:739px;top:160px;width:39px;height:19px;background:#F8CBAD"></i><b class="t" style="left:739px;top:163px;width:39px;height:15px;line-height:15px;color:#C00000">31</b><i style="left:780px;top:160px;width:39px;height:19px;background:#F8CBAD"></i><b class="t" style="left:780px;top:163px;width:39px;height:15px;line-height:15px;color:#C00000">30</b><i style="left:821px;top:160px;width:39px;height:19px;background:#F8CBAD"></i><b class="t" style="left:821px;top:163px;width:39px;height:15px;line-height:15px;color:#C00000">29</b><i style="left:862px;top:160px;width:36px;height:19px;background:#F8CBAD"></i><b class="t" style="left:862px;top:163px;width:36px;height:15px;line-height:15px;color:#C00000">27</b><i style="left:900px;top:160px;width:36px;height:19px;background:#F8CBAD"></i><b class="t" style="left:900px;top:163px;width:36px;height:15px;line-height:15px;color:#C00000">26</b><i style="left:938px;top:160px;width:39px;height:19px;background:#F8CBAD"></i><b class="t" style="left:938px;top:163px;width:39px;height:15px;line-height:15px;color:#C00000">25</b><i style="left:979px;top:160px;width:39px;height:19px;background:#F8CBAD"></i><b class="t" style="left:979px;top:163px;width:39px;height:15px;line-height:15px;color:#C00000">24</b><i style="left:1020px;top:160px;width:36px;height:19px;background:#F8CBAD"></i><b class="t" style="left:1020px;top:163px;width:36px;height:15px;line-height:15px;color:#C00000">24</b><i style="left:1058px;top:160px;width:36px;height:19px;background:#F8CBAD"></i><b class="t" style="left:1058px;top:163px;width:36px;height:15px;line-height:15px;color:#C00000">23</b><i style="left:1096px;top:160px;width:36px;height:19px;background:#F8CBAD"></i><b class="t" style="left:1096px;top:163px;width:36px;height:15px;line-height:15px;color:#C00000">22</b><i style="left:1134px;top:160px;width:36px;height:19px;background:#F8CBAD"></i><b class="t" style="left:1134px;top:163px;width:36px;height:15px;line-height:15px;color:#C00000">20</b><i style="left:1172px;top:160px;width:36px;height:19px;background:#F8CBAD"></i><b class="t" style="left:1172px;top:163px;width:36px;height:15px;line-height:15px;color:#C00000">19</b><i style="left:1210px;top:160px;width:36px;height:19px;background:#F8CBAD"></i><b class="t" style="left:1210px;top:163px;width:36px;height:15px;line-height:15px;color:#C00000">18</b><i style="left:1248px;top:160px;width:36px;height:19px;background:#F8CBAD"></i><b class="t" style="left:1248px;top:163px;width:36px;height:15px;line-height:15px;color:#C00000">17</b><i style="left:1286px;top:160px;width:36px;height:19px;background:#F8CBAD"></i><b class="t" style="left:1286px;top:163px;width:36px;height:15px;line-height:15px;color:#C00000">16</b><i style="left:1324px;top:160px;width:39px;height:19px;background:#F8CBAD"></i><b class="t" style="left:1324px;top:163px;width:39px;height:15px;line-height:15px;color:#C00000">12</b><i style="left:1365px;top:160px;width:39px;height:19px;background:#F8CBAD"></i><b class="t" style="left:1365px;top:163px;width:39px;height:15px;line-height:15px;color:#C00000">11</b><i style="left:1406px;top:160px;width:39px;height:19px;background:#F8CBAD"></i><b class="t" style="left:1406px;top:163px;width:39px;height:15px;line-height:15px;color:#C00000">6</b><i style="left:1447px;top:160px;width:39px;height:19px;background:#F8CBAD"></i><b class="t" style="left:1447px;top:163px;width:39px;height:15px;line-height:15px;color:#C00000">3</b><i style="left:1488px;top:160px;width:39px;height:19px;background:#F8CBAD"></i><b class="t" style="left:1488px;top:163px;width:39px;height:15px;line-height:15px;color:#C00000">1</b><i style="left:1612px;top:161px;width:1px;height:17px;background:#63C384"></i><b class="t" style="left:1611px;top:163px;width:64px;height:15px;line-height:15px">37</b><i style="left:1677px;top:160px;width:50px;height:19px;background:#FFC7CE"></i><b class="t" style="left:1677px;top:163px;width:50px;height:15px;line-height:15px;color:#9C0006">0</b><i style="left:1729px;top:160px;width:64px;height:19px;background:#FFC7CE"></i><b class="t" style="left:1729px;top:163px;width:64px;height:15px;line-height:15px;color:#9C0006">100%</b><b class="t" style="left:1795px;top:163px;width:44px;height:15px;line-height:15px">1.487</b><b class="t" style="left:1841px;top:163px;width:43px;height:15px;line-height:15px">11.476</b><i style="left:1px;top:179px;width:1885px;height:2px;background:#000"></i><i style="left:1px;top:181px;width:93px;height:19px;background:#DDEBF7"></i><b class="tl" style="left:3px;top:184px;width:91px;height:15px;line-height:15px;color:#000">C.LEÓN</b><i style="left:96px;top:181px;width:37px;height:19px;background:#DDEBF7"></i><i style="left:97px;top:182px;width:1px;height:15px;border:1px solid #008AEF;background:linear-gradient(90deg,#008AEF,#D6ECFC)"></i><b class="t" style="left:96px;top:184px;width:37px;height:15px;line-height:15px;color:#000">190</b><b class="t" style="left:135px;top:184px;width:37px;height:15px;line-height:15px">190</b><b class="t" style="left:174px;top:184px;width:37px;height:15px;line-height:15px">190</b><b class="t" style="left:213px;top:184px;width:37px;height:15px;line-height:15px">190</b><b class="t" style="left:252px;top:184px;width:37px;height:15px;line-height:15px">189</b><b class="t" style="left:291px;top:184px;width:39px;height:15px;line-height:15px">189</b><b class="t" style="left:332px;top:184px;width:39px;height:15px;line-height:15px">189</b><b class="t" style="left:373px;top:184px;width:39px;height:15px;line-height:15px">189</b><b class="t" style="left:414px;top:184px;width:39px;height:15px;line-height:15px">189</b><b class="t" style="left:455px;top:184px;width:39px;height:15px;line-height:15px">189</b><b class="t" style="left:496px;top:184px;width:39px;height:15px;line-height:15px">189</b><b class="t" style="left:537px;top:184px;width:39px;height:15px;line-height:15px">188</b><b class="t" style="left:578px;top:184px;width:39px;height:15px;line-height:15px">188</b><b class="t" style="left:619px;top:184px;width:39px;height:15px;line-height:15px">188</b><b class="t" style="left:660px;top:184px;width:39px;height:15px;line-height:15px">186</b><b class="t" style="left:701px;top:184px;width:36px;height:15px;line-height:15px">186</b><b class="t" style="left:739px;top:184px;width:39px;height:15px;line-height:15px">186</b><b class="t" style="left:780px;top:184px;width:39px;height:15px;line-height:15px">186</b><b class="t" style="left:821px;top:184px;width:39px;height:15px;line-height:15px">186</b><b class="t" style="left:862px;top:184px;width:36px;height:15px;line-height:15px">185</b><b class="t" style="left:900px;top:184px;width:36px;height:15px;line-height:15px">183</b><b class="t" style="left:938px;top:184px;width:39px;height:15px;line-height:15px">183</b><b class="t" style="left:979px;top:184px;width:39px;height:15px;line-height:15px">183</b><b class="t" style="left:1020px;top:184px;width:36px;height:15px;line-height:15px">181</b><b class="t" style="left:1058px;top:184px;width:36px;height:15px;line-height:15px">176</b><b class="t" style="left:1096px;top:184px;width:36px;height:15px;line-height:15px">171</b><b class="t" style="left:1134px;top:184px;width:36px;height:15px;line-height:15px">165</b><b class="t" style="left:1172px;top:184px;width:36px;height:15px;line-height:15px">159</b><b class="t" style="left:1210px;top:184px;width:36px;height:15px;line-height:15px">159</b><b class="t" style="left:1248px;top:184px;width:36px;height:15px;line-height:15px">158</b><b class="t" style="left:1286px;top:184px;width:36px;height:15px;line-height:15px">149</b><b class="t" style="left:1324px;top:184px;width:39px;height:15px;line-height:15px">136</b><b class="t" style="left:1365px;top:184px;width:39px;height:15px;line-height:15px">132</b><b class="t" style="left:1406px;top:184px;width:39px;height:15px;line-height:15px">123</b><b class="t" style="left:1447px;top:184px;width:39px;height:15px;line-height:15px">110</b><b class="t" style="left:1488px;top:184px;width:39px;height:15px;line-height:15px">92</b><b class="t" style="left:1529px;top:184px;width:39px;height:15px;line-height:15px">81</b><b class="t" style="left:1570px;top:184px;width:39px;height:15px;line-height:15px">47</b><i style="left:1612px;top:182px;width:2px;height:15px;border:1px solid #63C384;background:linear-gradient(90deg,#63C384,#E6F5EB)"></i><b class="t" style="left:1611px;top:184px;width:64px;height:15px;line-height:15px">143</b><i style="left:1678px;top:182px;width:8px;height:15px;border:1px solid #FFB628;background:linear-gradient(90deg,#FFB628,#FFF0D4)"></i><b class="t" style="left:1677px;top:184px;width:50px;height:15px;line-height:15px">47</b><i style="left:1729px;top:181px;width:64px;height:19px;background:#FFEB9C"></i><b class="t" style="left:1729px;top:184px;width:64px;height:15px;line-height:15px;color:#9C5700">75%</b><b class="t" style="left:1795px;top:184px;width:44px;height:15px;line-height:15px">1.123</b><b class="t" style="left:1841px;top:184px;width:43px;height:15px;line-height:15px">11.705</b><i style="left:1px;top:200px;width:1885px;height:2px;background:#000"></i><i style="left:1px;top:202px;width:93px;height:19px;background:#F8CBAD"></i><b class="tl" style="left:3px;top:205px;width:91px;height:15px;line-height:15px;color:#C00000">C.MANCHA</b><i style="left:96px;top:202px;width:37px;height:19px;background:#F8CBAD"></i><i style="left:97px;top:203px;width:1px;height:17px;background:#008AEF"></i><b class="t" style="left:96px;top:205px;width:37px;height:15px;line-height:15px;color:#C00000">99</b><i style="left:135px;top:202px;width:37px;height:19px;background:#F8CBAD"></i><b class="t" style="left:135px;top:205px;width:37px;height:15px;line-height:15px;color:#C00000">99</b><i style="left:174px;top:202px;width:37px;height:19px;background:#F8CBAD"></i><b class="t" style="left:174px;top:205px;width:37px;height:15px;line-height:15px;color:#C00000">99</b><i style="left:213px;top:202px;width:37px;height:19px;background:#F8CBAD"></i><b class="t" style="left:213px;top:205px;width:37px;height:15px;line-height:15px;color:#C00000">99</b><i style="left:252px;top:202px;width:37px;height:19px;background:#F8CBAD"></i><b class="t" style="left:252px;top:205px;width:37px;height:15px;line-height:15px;color:#C00000">98</b><i style="left:291px;top:202px;width:39px;height:19px;background:#F8CBAD"></i><b class="t" style="left:291px;top:205px;width:39px;height:15px;line-height:15px;color:#C00000">97</b><i style="left:332px;top:202px;width:39px;height:19px;background:#F8CBAD"></i><b class="t" style="left:332px;top:205px;width:39px;height:15px;line-height:15px;color:#C00000">97</b><i style="left:373px;top:202px;width:39px;height:19px;background:#F8CBAD"></i><b class="t" style="left:373px;top:205px;width:39px;height:15px;line-height:15px;color:#C00000">97</b><i style="left:414px;top:202px;width:39px;height:19px;background:#F8CBAD"></i><b class="t" style="left:414px;top:205px;width:39px;height:15px;line-height:15px;color:#C00000">96</b><i style="left:455px;top:202px;width:39px;height:19px;background:#F8CBAD"></i><b class="t" style="left:455px;top:205px;width:39px;height:15px;line-height:15px;color:#C00000">95</b><i style="left:496px;top:202px;width:39px;height:19px;background:#F8CBAD"></i><b class="t" style="left:496px;top:205px;width:39px;height:15px;line-height:15px;color:#C00000">95</b><i style="left:537px;top:202px;width:39px;height:19px;background:#F8CBAD"></i><b class="t" style="left:537px;top:205px;width:39px;height:15px;line-height:15px;color:#C00000">95</b><i style="left:578px;top:202px;width:39px;height:19px;background:#F8CBAD"></i><b class="t" style="left:578px;top:205px;width:39px;height:15px;line-height:15px;color:#C00000">95</b><i style="left:619px;top:202px;width:39px;height:19px;background:#F8CBAD"></i><b class="t" style="left:619px;top:205px;width:39px;height:15px;line-height:15px;color:#C00000">95</b><i style="left:660px;top:202px;width:39px;height:19px;background:#F8CBAD"></i><b class="t" style="left:660px;top:205px;width:39px;height:15px;line-height:15px;color:#C00000">94</b><i style="left:701px;top:202px;width:36px;height:19px;background:#F8CBAD"></i><b class="t" style="left:701px;top:205px;width:36px;height:15px;line-height:15px;color:#C00000">93</b><i style="left:739px;top:202px;width:39px;height:19px;background:#F8CBAD"></i><b class="t" style="left:739px;top:205px;width:39px;height:15px;line-height:15px;color:#C00000">93</b><i style="left:780px;top:202px;width:39px;height:19px;background:#F8CBAD"></i><b class="t" style="left:780px;top:205px;width:39px;height:15px;line-height:15px;color:#C00000">91</b><i style="left:821px;top:202px;width:39px;height:19px;background:#F8CBAD"></i><b class="t" style="left:821px;top:205px;width:39px;height:15px;line-height:15px;color:#C00000">90</b><i style="left:862px;top:202px;width:36px;height:19px;background:#F8CBAD"></i><b class="t" style="left:862px;top:205px;width:36px;height:15px;line-height:15px;color:#C00000">88</b><i style="left:900px;top:202px;width:36px;height:19px;background:#F8CBAD"></i><b class="t" style="left:900px;top:205px;width:36px;height:15px;line-height:15px;color:#C00000">86</b><i style="left:938px;top:202px;width:39px;height:19px;background:#F8CBAD"></i><b class="t" style="left:938px;top:205px;width:39px;height:15px;line-height:15px;color:#C00000">86</b><i style="left:979px;top:202px;width:39px;height:19px;background:#F8CBAD"></i><b class="t" style="left:979px;top:205px;width:39px;height:15px;line-height:15px;color:#C00000">83</b><i style="left:1020px;top:202px;width:36px;height:19px;background:#F8CBAD"></i><b class="t" style="left:1020px;top:205px;width:36px;height:15px;line-height:15px;color:#C00000">83</b><i style="left:1058px;top:202px;width:36px;height:19px;background:#F8CBAD"></i><b class="t" style="left:1058px;top:205px;width:36px;height:15px;line-height:15px;color:#C00000">80</b><i style="left:1096px;top:202px;width:36px;height:19px;background:#F8CBAD"></i><b class="t" style="left:1096px;top:205px;width:36px;height:15px;line-height:15px;color:#C00000">75</b><i style="left:1134px;top:202px;width:36px;height:19px;background:#F8CBAD"></i><b class="t" style="left:1134px;top:205px;width:36px;height:15px;line-height:15px;color:#C00000">74</b><i style="left:1172px;top:202px;width:36px;height:19px;background:#F8CBAD"></i><b class="t" style="left:1172px;top:205px;width:36px;height:15px;line-height:15px;color:#C00000">69</b><i style="left:1210px;top:202px;width:36px;height:19px;background:#F8CBAD"></i><b class="t" style="left:1210px;top:205px;width:36px;height:15px;line-height:15px;color:#C00000">67</b><i style="left:1248px;top:202px;width:36px;height:19px;background:#F8CBAD"></i><b class="t" style="left:1248px;top:205px;width:36px;height:15px;line-height:15px;color:#C00000">64</b><i style="left:1286px;top:202px;width:36px;height:19px;background:#F8CBAD"></i><b class="t" style="left:1286px;top:205px;width:36px;height:15px;line-height:15px;color:#C00000">61</b><i style="left:1324px;top:202px;width:39px;height:19px;background:#F8CBAD"></i><b class="t" style="left:1324px;top:205px;width:39px;height:15px;line-height:15px;color:#C00000">56</b><i style="left:1365px;top:202px;width:39px;height:19px;background:#F8CBAD"></i><b class="t" style="left:1365px;top:205px;width:39px;height:15px;line-height:15px;color:#C00000">50</b><i style="left:1406px;top:202px;width:39px;height:19px;background:#F8CBAD"></i><b class="t" style="left:1406px;top:205px;width:39px;height:15px;line-height:15px;color:#C00000">42</b><i style="left:1447px;top:202px;width:39px;height:19px;background:#F8CBAD"></i><b class="t" style="left:1447px;top:205px;width:39px;height:15px;line-height:15px;color:#C00000">30</b><i style="left:1488px;top:202px;width:39px;height:19px;background:#F8CBAD"></i><b class="t" style="left:1488px;top:205px;width:39px;height:15px;line-height:15px;color:#C00000">20</b><i style="left:1529px;top:202px;width:39px;height:19px;background:#F8CBAD"></i><b class="t" style="left:1529px;top:205px;width:39px;height:15px;line-height:15px;color:#C00000">10</b><i style="left:1570px;top:202px;width:39px;height:19px;background:#F8CBAD"></i><b class="t" style="left:1570px;top:205px;width:39px;height:15px;line-height:15px;color:#C00000">0</b><i style="left:1612px;top:203px;width:1px;height:15px;border:1px solid #63C384;background:linear-gradient(90deg,#63C384,#E6F5EB)"></i><b class="t" style="left:1611px;top:205px;width:64px;height:15px;line-height:15px">99</b><i style="left:1677px;top:202px;width:50px;height:19px;background:#FFC7CE"></i><b class="t" style="left:1677px;top:205px;width:50px;height:15px;line-height:15px;color:#9C0006">0</b><i style="left:1729px;top:202px;width:64px;height:19px;background:#FFC7CE"></i><b class="t" style="left:1729px;top:205px;width:64px;height:15px;line-height:15px;color:#9C0006">100%</b><b class="t" style="left:1795px;top:205px;width:44px;height:15px;line-height:15px">1.076</b><b class="t" style="left:1841px;top:205px;width:43px;height:15px;line-height:15px">11.742</b><i style="left:1px;top:221px;width:1885px;height:2px;background:#000"></i><i style="left:1px;top:223px;width:93px;height:19px;background:#DDEBF7"></i><b class="tl" style="left:3px;top:226px;width:91px;height:15px;line-height:15px;color:#000;letter-spacing:0.37px">CATALUÑA</b><i style="left:96px;top:223px;width:37px;height:19px;background:#DDEBF7"></i><i style="left:97px;top:224px;width:3px;height:15px;border:1px solid #008AEF;background:linear-gradient(90deg,#008AEF,#D6ECFC)"></i><b class="t" style="left:96px;top:226px;width:37px;height:15px;line-height:15px;color:#000">371</b><b class="t" style="left:135px;top:226px;width:37px;height:15px;line-height:15px">371</b><b class="t" style="left:174px;top:226px;width:37px;height:15px;line-height:15px">371</b><b class="t" style="left:213px;top:226px;width:37px;height:15px;line-height:15px">371</b><b class="t" style="left:252px;top:226px;width:37px;height:15px;line-height:15px">369</b><b class="t" style="left:291px;top:226px;width:39px;height:15px;line-height:15px">368</b><b class="t" style="left:332px;top:226px;width:39px;height:15px;line-height:15px">365</b><b class="t" style="left:373px;top:226px;width:39px;height:15px;line-height:15px">363</b><b class="t" style="left:414px;top:226px;width:39px;height:15px;line-height:15px">361</b><b class="t" style="left:455px;top:226px;width:39px;height:15px;line-height:15px">360</b><b class="t" style="left:496px;top:226px;width:39px;height:15px;line-height:15px">357</b><b class="t" style="left:537px;top:226px;width:39px;height:15px;line-height:15px">356</b><b class="t" style="left:578px;top:226px;width:39px;height:15px;line-height:15px">353</b><b class="t" style="left:619px;top:226px;width:39px;height:15px;line-height:15px">348</b><b class="t" style="left:660px;top:226px;width:39px;height:15px;line-height:15px">346</b><b class="t" style="left:701px;top:226px;width:36px;height:15px;line-height:15px">341</b><b class="t" style="left:739px;top:226px;width:39px;height:15px;line-height:15px">337</b><b class="t" style="left:780px;top:226px;width:39px;height:15px;line-height:15px">333</b><b class="t" style="left:821px;top:226px;width:39px;height:15px;line-height:15px">328</b><b class="t" style="left:862px;top:226px;width:36px;height:15px;line-height:15px">323</b><b class="t" style="left:900px;top:226px;width:36px;height:15px;line-height:15px">314</b><b class="t" style="left:938px;top:226px;width:39px;height:15px;line-height:15px">307</b><b class="t" style="left:979px;top:226px;width:39px;height:15px;line-height:15px">298</b><b class="t" style="left:1020px;top:226px;width:36px;height:15px;line-height:15px">290</b><b class="t" style="left:1058px;top:226px;width:36px;height:15px;line-height:15px">282</b><b class="t" style="left:1096px;top:226px;width:36px;height:15px;line-height:15px">271</b><b class="t" style="left:1134px;top:226px;width:36px;height:15px;line-height:15px">261</b><b class="t" style="left:1172px;top:226px;width:36px;height:15px;line-height:15px">249</b><b class="t" style="left:1210px;top:226px;width:36px;height:15px;line-height:15px">236</b><b class="t" style="left:1248px;top:226px;width:36px;height:15px;line-height:15px">222</b><b class="t" style="left:1286px;top:226px;width:36px;height:15px;line-height:15px">207</b><b class="t" style="left:1324px;top:226px;width:39px;height:15px;line-height:15px">195</b><b class="t" style="left:1365px;top:226px;width:39px;height:15px;line-height:15px">184</b><b class="t" style="left:1406px;top:226px;width:39px;height:15px;line-height:15px">169</b><b class="t" style="left:1447px;top:226px;width:39px;height:15px;line-height:15px">150</b><b class="t" style="left:1488px;top:226px;width:39px;height:15px;line-height:15px">122</b><b class="t" style="left:1529px;top:226px;width:39px;height:15px;line-height:15px">98</b><b class="t" style="left:1570px;top:226px;width:39px;height:15px;line-height:15px">22</b><i style="left:1612px;top:224px;width:8px;height:15px;border:1px solid #63C384;background:linear-gradient(90deg,#63C384,#E6F5EB)"></i><b class="t" style="left:1611px;top:226px;width:64px;height:15px;line-height:15px">349</b><i style="left:1678px;top:224px;width:2px;height:15px;border:1px solid #FFB628;background:linear-gradient(90deg,#FFB628,#FFF0D4)"></i><b class="t" style="left:1677px;top:226px;width:50px;height:15px;line-height:15px">22</b><i style="left:1729px;top:223px;width:64px;height:19px;background:#FFEB9C"></i><b class="t" style="left:1729px;top:226px;width:64px;height:15px;line-height:15px;color:#9C5700">94%</b><b class="t" style="left:1795px;top:226px;width:44px;height:15px;line-height:15px">1.082</b><b class="t" style="left:1841px;top:226px;width:43px;height:15px;line-height:15px">11.748</b><i style="left:1px;top:242px;width:1885px;height:2px;background:#000"></i><i style="left:1px;top:244px;width:93px;height:19px;background:#F8CBAD"></i><b class="tl" style="left:3px;top:247px;width:91px;height:15px;line-height:15px;color:#C00000;letter-spacing:0.1px">CEUTA</b><i style="left:96px;top:244px;width:37px;height:19px;background:#F8CBAD"></i><b class="t" style="left:96px;top:247px;width:37px;height:15px;line-height:15px;color:#C00000">3</b><i style="left:135px;top:244px;width:37px;height:19px;background:#F8CBAD"></i><b class="t" style="left:135px;top:247px;width:37px;height:15px;line-height:15px;color:#C00000">3</b><i style="left:174px;top:244px;width:37px;height:19px;background:#F8CBAD"></i><b class="t" style="left:174px;top:247px;width:37px;height:15px;line-height:15px;color:#C00000">3</b><i style="left:213px;top:244px;width:37px;height:19px;background:#F8CBAD"></i><b class="t" style="left:213px;top:247px;width:37px;height:15px;line-height:15px;color:#C00000">3</b><i style="left:252px;top:244px;width:37px;height:19px;background:#F8CBAD"></i><b class="t" style="left:252px;top:247px;width:37px;height:15px;line-height:15px;color:#C00000">3</b><i style="left:291px;top:244px;width:39px;height:19px;background:#F8CBAD"></i><b class="t" style="left:291px;top:247px;width:39px;height:15px;line-height:15px;color:#C00000">3</b><i style="left:332px;top:244px;width:39px;height:19px;background:#F8CBAD"></i><b class="t" style="left:332px;top:247px;width:39px;height:15px;line-height:15px;color:#C00000">3</b><i style="left:373px;top:244px;width:39px;height:19px;background:#F8CBAD"></i><b class="t" style="left:373px;top:247px;width:39px;height:15px;line-height:15px;color:#C00000">3</b><i style="left:414px;top:244px;width:39px;height:19px;background:#F8CBAD"></i><b class="t" style="left:414px;top:247px;width:39px;height:15px;line-height:15px;color:#C00000">3</b><i style="left:455px;top:244px;width:39px;height:19px;background:#F8CBAD"></i><b class="t" style="left:455px;top:247px;width:39px;height:15px;line-height:15px;color:#C00000">3</b><i style="left:496px;top:244px;width:39px;height:19px;background:#F8CBAD"></i><b class="t" style="left:496px;top:247px;width:39px;height:15px;line-height:15px;color:#C00000">3</b><i style="left:537px;top:244px;width:39px;height:19px;background:#F8CBAD"></i><b class="t" style="left:537px;top:247px;width:39px;height:15px;line-height:15px;color:#C00000">3</b><i style="left:578px;top:244px;width:39px;height:19px;background:#F8CBAD"></i><b class="t" style="left:578px;top:247px;width:39px;height:15px;line-height:15px;color:#C00000">3</b><i style="left:619px;top:244px;width:39px;height:19px;background:#F8CBAD"></i><b class="t" style="left:619px;top:247px;width:39px;height:15px;line-height:15px;color:#C00000">3</b><i style="left:660px;top:244px;width:39px;height:19px;background:#F8CBAD"></i><b class="t" style="left:660px;top:247px;width:39px;height:15px;line-height:15px;color:#C00000">3</b><i style="left:701px;top:244px;width:36px;height:19px;background:#F8CBAD"></i><b class="t" style="left:701px;top:247px;width:36px;height:15px;line-height:15px;color:#C00000">3</b><i style="left:739px;top:244px;width:39px;height:19px;background:#F8CBAD"></i><b class="t" style="left:739px;top:247px;width:39px;height:15px;line-height:15px;color:#C00000">3</b><i style="left:780px;top:244px;width:39px;height:19px;background:#F8CBAD"></i><b class="t" style="left:780px;top:247px;width:39px;height:15px;line-height:15px;color:#C00000">3</b><i style="left:821px;top:244px;width:39px;height:19px;background:#F8CBAD"></i><b class="t" style="left:821px;top:247px;width:39px;height:15px;line-height:15px;color:#C00000">3</b><i style="left:862px;top:244px;width:36px;height:19px;background:#F8CBAD"></i><b class="t" style="left:862px;top:247px;width:36px;height:15px;line-height:15px;color:#C00000">3</b><i style="left:900px;top:244px;width:36px;height:19px;background:#F8CBAD"></i><b class="t" style="left:900px;top:247px;width:36px;height:15px;line-height:15px;color:#C00000">3</b><i style="left:938px;top:244px;width:39px;height:19px;background:#F8CBAD"></i><b class="t" style="left:938px;top:247px;width:39px;height:15px;line-height:15px;color:#C00000">3</b><i style="left:979px;top:244px;width:39px;height:19px;background:#F8CBAD"></i><b class="t" style="left:979px;top:247px;width:39px;height:15px;line-height:15px;color:#C00000">3</b><i style="left:1020px;top:244px;width:36px;height:19px;background:#F8CBAD"></i><b class="t" style="left:1020px;top:247px;width:36px;height:15px;line-height:15px;color:#C00000">3</b><i style="left:1058px;top:244px;width:36px;height:19px;background:#F8CBAD"></i><b class="t" style="left:1058px;top:247px;width:36px;height:15px;line-height:15px;color:#C00000">3</b><i style="left:1096px;top:244px;width:36px;height:19px;background:#F8CBAD"></i><b class="t" style="left:1096px;top:247px;width:36px;height:15px;line-height:15px;color:#C00000">3</b><i style="left:1134px;top:244px;width:36px;height:19px;background:#F8CBAD"></i><b class="t" style="left:1134px;top:247px;width:36px;height:15px;line-height:15px;color:#C00000">3</b><i style="left:1172px;top:244px;width:36px;height:19px;background:#F8CBAD"></i><b class="t" style="left:1172px;top:247px;width:36px;height:15px;line-height:15px;color:#C00000">3</b><i style="left:1210px;top:244px;width:36px;height:19px;background:#F8CBAD"></i><b class="t" style="left:1210px;top:247px;width:36px;height:15px;line-height:15px;color:#C00000">3</b><i style="left:1248px;top:244px;width:36px;height:19px;background:#F8CBAD"></i><b class="t" style="left:1248px;top:247px;width:36px;height:15px;line-height:15px;color:#C00000">3</b><i style="left:1286px;top:244px;width:36px;height:19px;background:#F8CBAD"></i><b class="t" style="left:1286px;top:247px;width:36px;height:15px;line-height:15px;color:#C00000">3</b><i style="left:1324px;top:244px;width:39px;height:19px;background:#F8CBAD"></i><b class="t" style="left:1324px;top:247px;width:39px;height:15px;line-height:15px;color:#C00000">3</b><i style="left:1365px;top:244px;width:39px;height:19px;background:#F8CBAD"></i><b class="t" style="left:1365px;top:247px;width:39px;height:15px;line-height:15px;color:#C00000">3</b><i style="left:1406px;top:244px;width:39px;height:19px;background:#F8CBAD"></i><b class="t" style="left:1406px;top:247px;width:39px;height:15px;line-height:15px;color:#C00000">1</b><i style="left:1447px;top:244px;width:39px;height:19px;background:#F8CBAD"></i><b class="t" style="left:1447px;top:247px;width:39px;height:15px;line-height:15px;color:#C00000">1</b><i style="left:1488px;top:244px;width:39px;height:19px;background:#F8CBAD"></i><b class="t" style="left:1488px;top:247px;width:39px;height:15px;line-height:15px;color:#C00000">1</b><i style="left:1529px;top:244px;width:39px;height:19px;background:#F8CBAD"></i><b class="t" style="left:1529px;top:247px;width:39px;height:15px;line-height:15px;color:#C00000">1</b><i style="left:1570px;top:244px;width:39px;height:19px;background:#F8CBAD"></i><b class="t" style="left:1570px;top:247px;width:39px;height:15px;line-height:15px;color:#C00000">0</b><b class="t" style="left:1611px;top:247px;width:64px;height:15px;line-height:15px">3</b><i style="left:1677px;top:244px;width:50px;height:19px;background:#FFC7CE"></i><b class="t" style="left:1677px;top:247px;width:50px;height:15px;line-height:15px;color:#9C0006">0</b><i style="left:1729px;top:244px;width:64px;height:19px;background:#FFC7CE"></i><b class="t" style="left:1729px;top:247px;width:64px;height:15px;line-height:15px;color:#9C0006">100%</b><b class="t" style="left:1795px;top:247px;width:44px;height:15px;line-height:15px">10.242</b><b class="t" style="left:1841px;top:247px;width:43px;height:15px;line-height:15px">11.661</b><i style="left:1px;top:263px;width:1885px;height:2px;background:#000"></i><i style="left:1px;top:265px;width:93px;height:19px;background:#DDEBF7"></i><b class="tl" style="left:3px;top:268px;width:91px;height:15px;line-height:15px;color:#000;font-size:12.3px;letter-spacing:0.13px">EXTREMADURA</b><i style="left:96px;top:265px;width:37px;height:19px;background:#DDEBF7"></i><i style="left:97px;top:266px;width:1px;height:17px;background:#008AEF"></i><b class="t" style="left:96px;top:268px;width:37px;height:15px;line-height:15px;color:#000">98</b><b class="t" style="left:135px;top:268px;width:37px;height:15px;line-height:15px">98</b><b class="t" style="left:174px;top:268px;width:37px;height:15px;line-height:15px">98</b><b class="t" style="left:213px;top:268px;width:37px;height:15px;line-height:15px">98</b><b class="t" style="left:252px;top:268px;width:37px;height:15px;line-height:15px">98</b><b class="t" style="left:291px;top:268px;width:39px;height:15px;line-height:15px">98</b><b class="t" style="left:332px;top:268px;width:39px;height:15px;line-height:15px">98</b><b class="t" style="left:373px;top:268px;width:39px;height:15px;line-height:15px">98</b><b class="t" style="left:414px;top:268px;width:39px;height:15px;line-height:15px">98</b><b class="t" style="left:455px;top:268px;width:39px;height:15px;line-height:15px">98</b><b class="t" style="left:496px;top:268px;width:39px;height:15px;line-height:15px">98</b><b class="t" style="left:537px;top:268px;width:39px;height:15px;line-height:15px">98</b><b class="t" style="left:578px;top:268px;width:39px;height:15px;line-height:15px">97</b><b class="t" style="left:619px;top:268px;width:39px;height:15px;line-height:15px">97</b><b class="t" style="left:660px;top:268px;width:39px;height:15px;line-height:15px">97</b><b class="t" style="left:701px;top:268px;width:36px;height:15px;line-height:15px">97</b><b class="t" style="left:739px;top:268px;width:39px;height:15px;line-height:15px">97</b><b class="t" style="left:780px;top:268px;width:39px;height:15px;line-height:15px">97</b><b class="t" style="left:821px;top:268px;width:39px;height:15px;line-height:15px">97</b><b class="t" style="left:862px;top:268px;width:36px;height:15px;line-height:15px">97</b><b class="t" style="left:900px;top:268px;width:36px;height:15px;line-height:15px">96</b><b class="t" style="left:938px;top:268px;width:39px;height:15px;line-height:15px">96</b><b class="t" style="left:979px;top:268px;width:39px;height:15px;line-height:15px">95</b><b class="t" style="left:1020px;top:268px;width:36px;height:15px;line-height:15px">93</b><b class="t" style="left:1058px;top:268px;width:36px;height:15px;line-height:15px">93</b><b class="t" style="left:1096px;top:268px;width:36px;height:15px;line-height:15px">90</b><b class="t" style="left:1134px;top:268px;width:36px;height:15px;line-height:15px">88</b><b class="t" style="left:1172px;top:268px;width:36px;height:15px;line-height:15px">86</b><b class="t" style="left:1210px;top:268px;width:36px;height:15px;line-height:15px">85</b><b class="t" style="left:1248px;top:268px;width:36px;height:15px;line-height:15px">84</b><b class="t" style="left:1286px;top:268px;width:36px;height:15px;line-height:15px">83</b><b class="t" style="left:1324px;top:268px;width:39px;height:15px;line-height:15px">81</b><b class="t" style="left:1365px;top:268px;width:39px;height:15px;line-height:15px">80</b><b class="t" style="left:1406px;top:268px;width:39px;height:15px;line-height:15px">75</b><b class="t" style="left:1447px;top:268px;width:39px;height:15px;line-height:15px">72</b><b class="t" style="left:1488px;top:268px;width:39px;height:15px;line-height:15px">66</b><b class="t" style="left:1529px;top:268px;width:39px;height:15px;line-height:15px">61</b><b class="t" style="left:1570px;top:268px;width:39px;height:15px;line-height:15px">49</b><i style="left:1612px;top:266px;width:1px;height:17px;background:#63C384"></i><b class="t" style="left:1611px;top:268px;width:64px;height:15px;line-height:15px">49</b><i style="left:1678px;top:266px;width:8px;height:15px;border:1px solid #FFB628;background:linear-gradient(90deg,#FFB628,#FFF0D4)"></i><b class="t" style="left:1677px;top:268px;width:50px;height:15px;line-height:15px">49</b><i style="left:1729px;top:265px;width:64px;height:19px;background:#C6EFCE"></i><b class="t" style="left:1729px;top:268px;width:64px;height:15px;line-height:15px;color:#006100">50%</b><b class="t" style="left:1795px;top:268px;width:44px;height:15px;line-height:15px">3.525</b><b class="t" style="left:1841px;top:268px;width:43px;height:15px;line-height:15px">11.685</b><i style="left:1px;top:284px;width:1885px;height:2px;background:#000"></i><i style="left:1px;top:286px;width:93px;height:19px;background:#DDEBF7"></i><b class="tl" style="left:3px;top:289px;width:91px;height:15px;line-height:15px;color:#000">GALICIA</b><i style="left:96px;top:286px;width:37px;height:19px;background:#DDEBF7"></i><i style="left:97px;top:287px;width:1px;height:15px;border:1px solid #008AEF;background:linear-gradient(90deg,#008AEF,#D6ECFC)"></i><b class="t" style="left:96px;top:289px;width:37px;height:15px;line-height:15px;color:#000">207</b><b class="t" style="left:135px;top:289px;width:37px;height:15px;line-height:15px">205</b><b class="t" style="left:174px;top:289px;width:37px;height:15px;line-height:15px">205</b><b class="t" style="left:213px;top:289px;width:37px;height:15px;line-height:15px">205</b><b class="t" style="left:252px;top:289px;width:37px;height:15px;line-height:15px">205</b><b class="t" style="left:291px;top:289px;width:39px;height:15px;line-height:15px">204</b><b class="t" style="left:332px;top:289px;width:39px;height:15px;line-height:15px">204</b><b class="t" style="left:373px;top:289px;width:39px;height:15px;line-height:15px">204</b><b class="t" style="left:414px;top:289px;width:39px;height:15px;line-height:15px">203</b><b class="t" style="left:455px;top:289px;width:39px;height:15px;line-height:15px">202</b><b class="t" style="left:496px;top:289px;width:39px;height:15px;line-height:15px">199</b><b class="t" style="left:537px;top:289px;width:39px;height:15px;line-height:15px">197</b><b class="t" style="left:578px;top:289px;width:39px;height:15px;line-height:15px">197</b><b class="t" style="left:619px;top:289px;width:39px;height:15px;line-height:15px">196</b><b class="t" style="left:660px;top:289px;width:39px;height:15px;line-height:15px">192</b><b class="t" style="left:701px;top:289px;width:36px;height:15px;line-height:15px">190</b><b class="t" style="left:739px;top:289px;width:39px;height:15px;line-height:15px">189</b><b class="t" style="left:780px;top:289px;width:39px;height:15px;line-height:15px">187</b><b class="t" style="left:821px;top:289px;width:39px;height:15px;line-height:15px">184</b><b class="t" style="left:862px;top:289px;width:36px;height:15px;line-height:15px">184</b><b class="t" style="left:900px;top:289px;width:36px;height:15px;line-height:15px">179</b><b class="t" style="left:938px;top:289px;width:39px;height:15px;line-height:15px">175</b><b class="t" style="left:979px;top:289px;width:39px;height:15px;line-height:15px">168</b><b class="t" style="left:1020px;top:289px;width:36px;height:15px;line-height:15px">162</b><b class="t" style="left:1058px;top:289px;width:36px;height:15px;line-height:15px">159</b><b class="t" style="left:1096px;top:289px;width:36px;height:15px;line-height:15px">155</b><b class="t" style="left:1134px;top:289px;width:36px;height:15px;line-height:15px">151</b><b class="t" style="left:1172px;top:289px;width:36px;height:15px;line-height:15px">147</b><b class="t" style="left:1210px;top:289px;width:36px;height:15px;line-height:15px">144</b><b class="t" style="left:1248px;top:289px;width:36px;height:15px;line-height:15px">140</b><b class="t" style="left:1286px;top:289px;width:36px;height:15px;line-height:15px">133</b><b class="t" style="left:1324px;top:289px;width:39px;height:15px;line-height:15px">127</b><b class="t" style="left:1365px;top:289px;width:39px;height:15px;line-height:15px">116</b><b class="t" style="left:1406px;top:289px;width:39px;height:15px;line-height:15px">103</b><b class="t" style="left:1447px;top:289px;width:39px;height:15px;line-height:15px">90</b><b class="t" style="left:1488px;top:289px;width:39px;height:15px;line-height:15px">75</b><b class="t" style="left:1529px;top:289px;width:39px;height:15px;line-height:15px">63</b><b class="t" style="left:1570px;top:289px;width:39px;height:15px;line-height:15px">42</b><i style="left:1612px;top:287px;width:3px;height:15px;border:1px solid #63C384;background:linear-gradient(90deg,#63C384,#E6F5EB)"></i><b class="t" style="left:1611px;top:289px;width:64px;height:15px;line-height:15px">165</b><i style="left:1678px;top:287px;width:7px;height:15px;border:1px solid #FFB628;background:linear-gradient(90deg,#FFB628,#FFF0D4)"></i><b class="t" style="left:1677px;top:289px;width:50px;height:15px;line-height:15px">42</b><i style="left:1729px;top:286px;width:64px;height:19px;background:#FFEB9C"></i><b class="t" style="left:1729px;top:289px;width:64px;height:15px;line-height:15px;color:#9C5700">80%</b><b class="t" style="left:1795px;top:289px;width:44px;height:15px;line-height:15px">82</b><b class="t" style="left:1841px;top:289px;width:43px;height:15px;line-height:15px">11.727</b><i style="left:1px;top:305px;width:1885px;height:2px;background:#000"></i><i style="left:1px;top:307px;width:93px;height:19px;background:#DDEBF7"></i><b class="tl" style="left:3px;top:310px;width:91px;height:15px;line-height:15px;color:#000;letter-spacing:-0.12px">RIOJA</b><i style="left:96px;top:307px;width:37px;height:19px;background:#DDEBF7"></i><b class="t" style="left:96px;top:310px;width:37px;height:15px;line-height:15px;color:#000">25</b><b class="t" style="left:135px;top:310px;width:37px;height:15px;line-height:15px">25</b><b class="t" style="left:174px;top:310px;width:37px;height:15px;line-height:15px">25</b><b class="t" style="left:213px;top:310px;width:37px;height:15px;line-height:15px">25</b><b class="t" style="left:252px;top:310px;width:37px;height:15px;line-height:15px">25</b><b class="t" style="left:291px;top:310px;width:39px;height:15px;line-height:15px">25</b><b class="t" style="left:332px;top:310px;width:39px;height:15px;line-height:15px">25</b><b class="t" style="left:373px;top:310px;width:39px;height:15px;line-height:15px">25</b><b class="t" style="left:414px;top:310px;width:39px;height:15px;line-height:15px">25</b><b class="t" style="left:455px;top:310px;width:39px;height:15px;line-height:15px">25</b><b class="t" style="left:496px;top:310px;width:39px;height:15px;line-height:15px">25</b><b class="t" style="left:537px;top:310px;width:39px;height:15px;line-height:15px">25</b><b class="t" style="left:578px;top:310px;width:39px;height:15px;line-height:15px">25</b><b class="t" style="left:619px;top:310px;width:39px;height:15px;line-height:15px">25</b><b class="t" style="left:660px;top:310px;width:39px;height:15px;line-height:15px">25</b><b class="t" style="left:701px;top:310px;width:36px;height:15px;line-height:15px">25</b><b class="t" style="left:739px;top:310px;width:39px;height:15px;line-height:15px">25</b><b class="t" style="left:780px;top:310px;width:39px;height:15px;line-height:15px">25</b><b class="t" style="left:821px;top:310px;width:39px;height:15px;line-height:15px">25</b><b class="t" style="left:862px;top:310px;width:36px;height:15px;line-height:15px">25</b><b class="t" style="left:900px;top:310px;width:36px;height:15px;line-height:15px">25</b><b class="t" style="left:938px;top:310px;width:39px;height:15px;line-height:15px">25</b><b class="t" style="left:979px;top:310px;width:39px;height:15px;line-height:15px">25</b><b class="t" style="left:1020px;top:310px;width:36px;height:15px;line-height:15px">25</b><b class="t" style="left:1058px;top:310px;width:36px;height:15px;line-height:15px">25</b><b class="t" style="left:1096px;top:310px;width:36px;height:15px;line-height:15px">23</b><b class="t" style="left:1134px;top:310px;width:36px;height:15px;line-height:15px">22</b><b class="t" style="left:1172px;top:310px;width:36px;height:15px;line-height:15px">22</b><b class="t" style="left:1210px;top:310px;width:36px;height:15px;line-height:15px">22</b><b class="t" style="left:1248px;top:310px;width:36px;height:15px;line-height:15px">22</b><b class="t" style="left:1286px;top:310px;width:36px;height:15px;line-height:15px">22</b><b class="t" style="left:1324px;top:310px;width:39px;height:15px;line-height:15px">21</b><b class="t" style="left:1365px;top:310px;width:39px;height:15px;line-height:15px">20</b><b class="t" style="left:1406px;top:310px;width:39px;height:15px;line-height:15px">20</b><b class="t" style="left:1447px;top:310px;width:39px;height:15px;line-height:15px">18</b><b class="t" style="left:1488px;top:310px;width:39px;height:15px;line-height:15px">17</b><b class="t" style="left:1529px;top:310px;width:39px;height:15px;line-height:15px">17</b><b class="t" style="left:1570px;top:310px;width:39px;height:15px;line-height:15px">9</b><b class="t" style="left:1611px;top:310px;width:64px;height:15px;line-height:15px">16</b><i style="left:1678px;top:308px;width:2px;height:17px;background:#FFB628"></i><b class="t" style="left:1677px;top:310px;width:50px;height:15px;line-height:15px">9</b><i style="left:1729px;top:307px;width:64px;height:19px;background:#C6EFCE"></i><b class="t" style="left:1729px;top:310px;width:64px;height:15px;line-height:15px;color:#006100">64%</b><b class="t" style="left:1795px;top:310px;width:44px;height:15px;line-height:15px">7.392</b><b class="t" style="left:1841px;top:310px;width:43px;height:15px;line-height:15px">11.248</b><i style="left:1px;top:326px;width:1885px;height:2px;background:#000"></i><i style="left:1px;top:328px;width:93px;height:19px;background:#F8CBAD"></i><b class="tl" style="left:3px;top:331px;width:91px;height:15px;line-height:15px;color:#C00000;letter-spacing:-0.36px">MADRID</b><i style="left:96px;top:328px;width:37px;height:19px;background:#DDEBF7"></i><i style="left:97px;top:329px;width:2px;height:15px;border:1px solid #008AEF;background:linear-gradient(90deg,#008AEF,#D6ECFC)"></i><b class="t" style="left:96px;top:331px;width:37px;height:15px;line-height:15px;color:#000">244</b><i style="left:135px;top:328px;width:37px;height:19px;background:#F8CBAD"></i><b class="t" style="left:135px;top:331px;width:37px;height:15px;line-height:15px;color:#C00000">243</b><i style="left:174px;top:328px;width:37px;height:19px;background:#F8CBAD"></i><b class="t" style="left:174px;top:331px;width:37px;height:15px;line-height:15px;color:#C00000">243</b><i style="left:213px;top:328px;width:37px;height:19px;background:#F8CBAD"></i><b class="t" style="left:213px;top:331px;width:37px;height:15px;line-height:15px;color:#C00000">243</b><i style="left:252px;top:328px;width:37px;height:19px;background:#F8CBAD"></i><b class="t" style="left:252px;top:331px;width:37px;height:15px;line-height:15px;color:#C00000">243</b><i style="left:291px;top:328px;width:39px;height:19px;background:#F8CBAD"></i><b class="t" style="left:291px;top:331px;width:39px;height:15px;line-height:15px;color:#C00000">241</b><i style="left:332px;top:328px;width:39px;height:19px;background:#F8CBAD"></i><b class="t" style="left:332px;top:331px;width:39px;height:15px;line-height:15px;color:#C00000">241</b><i style="left:373px;top:328px;width:39px;height:19px;background:#F8CBAD"></i><b class="t" style="left:373px;top:331px;width:39px;height:15px;line-height:15px;color:#C00000">241</b><i style="left:414px;top:328px;width:39px;height:19px;background:#F8CBAD"></i><b class="t" style="left:414px;top:331px;width:39px;height:15px;line-height:15px;color:#C00000">239</b><i style="left:455px;top:328px;width:39px;height:19px;background:#F8CBAD"></i><b class="t" style="left:455px;top:331px;width:39px;height:15px;line-height:15px;color:#C00000">239</b><i style="left:496px;top:328px;width:39px;height:19px;background:#F8CBAD"></i><b class="t" style="left:496px;top:331px;width:39px;height:15px;line-height:15px;color:#C00000">239</b><i style="left:537px;top:328px;width:39px;height:19px;background:#F8CBAD"></i><b class="t" style="left:537px;top:331px;width:39px;height:15px;line-height:15px;color:#C00000">237</b><i style="left:578px;top:328px;width:39px;height:19px;background:#F8CBAD"></i><b class="t" style="left:578px;top:331px;width:39px;height:15px;line-height:15px;color:#C00000">237</b><i style="left:619px;top:328px;width:39px;height:19px;background:#F8CBAD"></i><b class="t" style="left:619px;top:331px;width:39px;height:15px;line-height:15px;color:#C00000">235</b><i style="left:660px;top:328px;width:39px;height:19px;background:#F8CBAD"></i><b class="t" style="left:660px;top:331px;width:39px;height:15px;line-height:15px;color:#C00000">232</b><i style="left:701px;top:328px;width:36px;height:19px;background:#F8CBAD"></i><b class="t" style="left:701px;top:331px;width:36px;height:15px;line-height:15px;color:#C00000">232</b><i style="left:739px;top:328px;width:39px;height:19px;background:#F8CBAD"></i><b class="t" style="left:739px;top:331px;width:39px;height:15px;line-height:15px;color:#C00000">230</b><i style="left:780px;top:328px;width:39px;height:19px;background:#F8CBAD"></i><b class="t" style="left:780px;top:331px;width:39px;height:15px;line-height:15px;color:#C00000">226</b><i style="left:821px;top:328px;width:39px;height:19px;background:#F8CBAD"></i><b class="t" style="left:821px;top:331px;width:39px;height:15px;line-height:15px;color:#C00000">222</b><i style="left:862px;top:328px;width:36px;height:19px;background:#F8CBAD"></i><b class="t" style="left:862px;top:331px;width:36px;height:15px;line-height:15px;color:#C00000">217</b><i style="left:900px;top:328px;width:36px;height:19px;background:#F8CBAD"></i><b class="t" style="left:900px;top:331px;width:36px;height:15px;line-height:15px;color:#C00000">204</b><i style="left:938px;top:328px;width:39px;height:19px;background:#F8CBAD"></i><b class="t" style="left:938px;top:331px;width:39px;height:15px;line-height:15px;color:#C00000">199</b><i style="left:979px;top:328px;width:39px;height:19px;background:#F8CBAD"></i><b class="t" style="left:979px;top:331px;width:39px;height:15px;line-height:15px;color:#C00000">187</b><i style="left:1020px;top:328px;width:36px;height:19px;background:#F8CBAD"></i><b class="t" style="left:1020px;top:331px;width:36px;height:15px;line-height:15px;color:#C00000">167</b><i style="left:1058px;top:328px;width:36px;height:19px;background:#F8CBAD"></i><b class="t" style="left:1058px;top:331px;width:36px;height:15px;line-height:15px;color:#C00000">147</b><i style="left:1096px;top:328px;width:36px;height:19px;background:#F8CBAD"></i><b class="t" style="left:1096px;top:331px;width:36px;height:15px;line-height:15px;color:#C00000">126</b><i style="left:1134px;top:328px;width:36px;height:19px;background:#F8CBAD"></i><b class="t" style="left:1134px;top:331px;width:36px;height:15px;line-height:15px;color:#C00000">113</b><i style="left:1172px;top:328px;width:36px;height:19px;background:#F8CBAD"></i><b class="t" style="left:1172px;top:331px;width:36px;height:15px;line-height:15px;color:#C00000">96</b><i style="left:1210px;top:328px;width:36px;height:19px;background:#F8CBAD"></i><b class="t" style="left:1210px;top:331px;width:36px;height:15px;line-height:15px;color:#C00000">74</b><i style="left:1248px;top:328px;width:36px;height:19px;background:#F8CBAD"></i><b class="t" style="left:1248px;top:331px;width:36px;height:15px;line-height:15px;color:#C00000">57</b><i style="left:1286px;top:328px;width:36px;height:19px;background:#F8CBAD"></i><b class="t" style="left:1286px;top:331px;width:36px;height:15px;line-height:15px;color:#C00000">40</b><i style="left:1324px;top:328px;width:39px;height:19px;background:#F8CBAD"></i><b class="t" style="left:1324px;top:331px;width:39px;height:15px;line-height:15px;color:#C00000">28</b><i style="left:1365px;top:328px;width:39px;height:19px;background:#F8CBAD"></i><b class="t" style="left:1365px;top:331px;width:39px;height:15px;line-height:15px;color:#C00000">8</b><i style="left:1612px;top:329px;width:5px;height:15px;border:1px solid #63C384;background:linear-gradient(90deg,#63C384,#E6F5EB)"></i><b class="t" style="left:1611px;top:331px;width:64px;height:15px;line-height:15px">244</b><i style="left:1677px;top:328px;width:50px;height:19px;background:#FFC7CE"></i><b class="t" style="left:1677px;top:331px;width:50px;height:15px;line-height:15px;color:#9C0006">0</b><i style="left:1729px;top:328px;width:64px;height:19px;background:#FFC7CE"></i><b class="t" style="left:1729px;top:331px;width:64px;height:15px;line-height:15px;color:#9C0006">100%</b><b class="t" style="left:1795px;top:331px;width:44px;height:15px;line-height:15px">17</b><b class="t" style="left:1841px;top:331px;width:43px;height:15px;line-height:15px">10.193</b><i style="left:1px;top:347px;width:1885px;height:2px;background:#000"></i><i style="left:1px;top:349px;width:93px;height:19px;background:#F8CBAD"></i><b class="tl" style="left:3px;top:352px;width:91px;height:15px;line-height:15px;color:#C00000">MELILLA</b><i style="left:96px;top:349px;width:37px;height:19px;background:#DDEBF7"></i><b class="t" style="left:96px;top:352px;width:37px;height:15px;line-height:15px;color:#000">3</b><i style="left:135px;top:349px;width:37px;height:19px;background:#F8CBAD"></i><b class="t" style="left:135px;top:352px;width:37px;height:15px;line-height:15px;color:#C00000">3</b><i style="left:174px;top:349px;width:37px;height:19px;background:#F8CBAD"></i><b class="t" style="left:174px;top:352px;width:37px;height:15px;line-height:15px;color:#C00000">3</b><i style="left:213px;top:349px;width:37px;height:19px;background:#F8CBAD"></i><b class="t" style="left:213px;top:352px;width:37px;height:15px;line-height:15px;color:#C00000">3</b><i style="left:252px;top:349px;width:37px;height:19px;background:#F8CBAD"></i><b class="t" style="left:252px;top:352px;width:37px;height:15px;line-height:15px;color:#C00000">3</b><i style="left:291px;top:349px;width:39px;height:19px;background:#F8CBAD"></i><b class="t" style="left:291px;top:352px;width:39px;height:15px;line-height:15px;color:#C00000">3</b><i style="left:332px;top:349px;width:39px;height:19px;background:#F8CBAD"></i><b class="t" style="left:332px;top:352px;width:39px;height:15px;line-height:15px;color:#C00000">3</b><i style="left:373px;top:349px;width:39px;height:19px;background:#F8CBAD"></i><b class="t" style="left:373px;top:352px;width:39px;height:15px;line-height:15px;color:#C00000">3</b><i style="left:414px;top:349px;width:39px;height:19px;background:#F8CBAD"></i><b class="t" style="left:414px;top:352px;width:39px;height:15px;line-height:15px;color:#C00000">3</b><i style="left:455px;top:349px;width:39px;height:19px;background:#F8CBAD"></i><b class="t" style="left:455px;top:352px;width:39px;height:15px;line-height:15px;color:#C00000">3</b><i style="left:496px;top:349px;width:39px;height:19px;background:#F8CBAD"></i><b class="t" style="left:496px;top:352px;width:39px;height:15px;line-height:15px;color:#C00000">3</b><i style="left:537px;top:349px;width:39px;height:19px;background:#F8CBAD"></i><b class="t" style="left:537px;top:352px;width:39px;height:15px;line-height:15px;color:#C00000">3</b><i style="left:578px;top:349px;width:39px;height:19px;background:#F8CBAD"></i><b class="t" style="left:578px;top:352px;width:39px;height:15px;line-height:15px;color:#C00000">2</b><i style="left:619px;top:349px;width:39px;height:19px;background:#F8CBAD"></i><b class="t" style="left:619px;top:352px;width:39px;height:15px;line-height:15px;color:#C00000">2</b><i style="left:660px;top:349px;width:39px;height:19px;background:#F8CBAD"></i><b class="t" style="left:660px;top:352px;width:39px;height:15px;line-height:15px;color:#C00000">2</b><i style="left:701px;top:349px;width:36px;height:19px;background:#F8CBAD"></i><b class="t" style="left:701px;top:352px;width:36px;height:15px;line-height:15px;color:#C00000">2</b><i style="left:739px;top:349px;width:39px;height:19px;background:#F8CBAD"></i><b class="t" style="left:739px;top:352px;width:39px;height:15px;line-height:15px;color:#C00000">2</b><i style="left:780px;top:349px;width:39px;height:19px;background:#F8CBAD"></i><b class="t" style="left:780px;top:352px;width:39px;height:15px;line-height:15px;color:#C00000">2</b><i style="left:821px;top:349px;width:39px;height:19px;background:#F8CBAD"></i><b class="t" style="left:821px;top:352px;width:39px;height:15px;line-height:15px;color:#C00000">2</b><i style="left:862px;top:349px;width:36px;height:19px;background:#F8CBAD"></i><b class="t" style="left:862px;top:352px;width:36px;height:15px;line-height:15px;color:#C00000">2</b><i style="left:900px;top:349px;width:36px;height:19px;background:#F8CBAD"></i><b class="t" style="left:900px;top:352px;width:36px;height:15px;line-height:15px;color:#C00000">2</b><i style="left:938px;top:349px;width:39px;height:19px;background:#F8CBAD"></i><b class="t" style="left:938px;top:352px;width:39px;height:15px;line-height:15px;color:#C00000">2</b><i style="left:979px;top:349px;width:39px;height:19px;background:#F8CBAD"></i><b class="t" style="left:979px;top:352px;width:39px;height:15px;line-height:15px;color:#C00000">2</b><i style="left:1020px;top:349px;width:36px;height:19px;background:#F8CBAD"></i><b class="t" style="left:1020px;top:352px;width:36px;height:15px;line-height:15px;color:#C00000">2</b><i style="left:1058px;top:349px;width:36px;height:19px;background:#F8CBAD"></i><b class="t" style="left:1058px;top:352px;width:36px;height:15px;line-height:15px;color:#C00000">2</b><i style="left:1096px;top:349px;width:36px;height:19px;background:#F8CBAD"></i><b class="t" style="left:1096px;top:352px;width:36px;height:15px;line-height:15px;color:#C00000">2</b><i style="left:1134px;top:349px;width:36px;height:19px;background:#F8CBAD"></i><b class="t" style="left:1134px;top:352px;width:36px;height:15px;line-height:15px;color:#C00000">2</b><i style="left:1172px;top:349px;width:36px;height:19px;background:#F8CBAD"></i><b class="t" style="left:1172px;top:352px;width:36px;height:15px;line-height:15px;color:#C00000">2</b><i style="left:1210px;top:349px;width:36px;height:19px;background:#F8CBAD"></i><b class="t" style="left:1210px;top:352px;width:36px;height:15px;line-height:15px;color:#C00000">2</b><i style="left:1248px;top:349px;width:36px;height:19px;background:#F8CBAD"></i><b class="t" style="left:1248px;top:352px;width:36px;height:15px;line-height:15px;color:#C00000">2</b><i style="left:1286px;top:349px;width:36px;height:19px;background:#F8CBAD"></i><b class="t" style="left:1286px;top:352px;width:36px;height:15px;line-height:15px;color:#C00000">1</b><i style="left:1324px;top:349px;width:39px;height:19px;background:#F8CBAD"></i><b class="t" style="left:1324px;top:352px;width:39px;height:15px;line-height:15px;color:#C00000">1</b><i style="left:1365px;top:349px;width:39px;height:19px;background:#F8CBAD"></i><b class="t" style="left:1365px;top:352px;width:39px;height:15px;line-height:15px;color:#C00000">1</b><b class="t" style="left:1611px;top:352px;width:64px;height:15px;line-height:15px">3</b><i style="left:1677px;top:349px;width:50px;height:19px;background:#FFC7CE"></i><b class="t" style="left:1677px;top:352px;width:50px;height:15px;line-height:15px;color:#9C0006">0</b><i style="left:1729px;top:349px;width:64px;height:19px;background:#FFC7CE"></i><b class="t" style="left:1729px;top:352px;width:64px;height:15px;line-height:15px;color:#9C0006">100%</b><b class="t" style="left:1795px;top:352px;width:44px;height:15px;line-height:15px">3.444</b><b class="t" style="left:1841px;top:352px;width:43px;height:15px;line-height:15px">10.306</b><i style="left:1px;top:368px;width:1885px;height:2px;background:#000"></i><i style="left:1px;top:370px;width:93px;height:19px;background:#F8CBAD"></i><b class="tl" style="left:3px;top:373px;width:91px;height:15px;line-height:15px;color:#C00000;letter-spacing:-0.34px">MURCIA</b><i style="left:96px;top:370px;width:37px;height:19px;background:#F8CBAD"></i><i style="left:97px;top:371px;width:1px;height:17px;background:#008AEF"></i><b class="t" style="left:96px;top:373px;width:37px;height:15px;line-height:15px;color:#C00000">100</b><i style="left:135px;top:370px;width:37px;height:19px;background:#F8CBAD"></i><b class="t" style="left:135px;top:373px;width:37px;height:15px;line-height:15px;color:#C00000">100</b><i style="left:174px;top:370px;width:37px;height:19px;background:#F8CBAD"></i><b class="t" style="left:174px;top:373px;width:37px;height:15px;line-height:15px;color:#C00000">100</b><i style="left:213px;top:370px;width:37px;height:19px;background:#F8CBAD"></i><b class="t" style="left:213px;top:373px;width:37px;height:15px;line-height:15px;color:#C00000">100</b><i style="left:252px;top:370px;width:37px;height:19px;background:#F8CBAD"></i><b class="t" style="left:252px;top:373px;width:37px;height:15px;line-height:15px;color:#C00000">100</b><i style="left:291px;top:370px;width:39px;height:19px;background:#F8CBAD"></i><b class="t" style="left:291px;top:373px;width:39px;height:15px;line-height:15px;color:#C00000">99</b><i style="left:332px;top:370px;width:39px;height:19px;background:#F8CBAD"></i><b class="t" style="left:332px;top:373px;width:39px;height:15px;line-height:15px;color:#C00000">99</b><i style="left:373px;top:370px;width:39px;height:19px;background:#F8CBAD"></i><b class="t" style="left:373px;top:373px;width:39px;height:15px;line-height:15px;color:#C00000">99</b><i style="left:414px;top:370px;width:39px;height:19px;background:#F8CBAD"></i><b class="t" style="left:414px;top:373px;width:39px;height:15px;line-height:15px;color:#C00000">99</b><i style="left:455px;top:370px;width:39px;height:19px;background:#F8CBAD"></i><b class="t" style="left:455px;top:373px;width:39px;height:15px;line-height:15px;color:#C00000">99</b><i style="left:496px;top:370px;width:39px;height:19px;background:#F8CBAD"></i><b class="t" style="left:496px;top:373px;width:39px;height:15px;line-height:15px;color:#C00000">98</b><i style="left:537px;top:370px;width:39px;height:19px;background:#F8CBAD"></i><b class="t" style="left:537px;top:373px;width:39px;height:15px;line-height:15px;color:#C00000">98</b><i style="left:578px;top:370px;width:39px;height:19px;background:#F8CBAD"></i><b class="t" style="left:578px;top:373px;width:39px;height:15px;line-height:15px;color:#C00000">98</b><i style="left:619px;top:370px;width:39px;height:19px;background:#F8CBAD"></i><b class="t" style="left:619px;top:373px;width:39px;height:15px;line-height:15px;color:#C00000">98</b><i style="left:660px;top:370px;width:39px;height:19px;background:#F8CBAD"></i><b class="t" style="left:660px;top:373px;width:39px;height:15px;line-height:15px;color:#C00000">98</b><i style="left:701px;top:370px;width:36px;height:19px;background:#F8CBAD"></i><b class="t" style="left:701px;top:373px;width:36px;height:15px;line-height:15px;color:#C00000">95</b><i style="left:739px;top:370px;width:39px;height:19px;background:#F8CBAD"></i><b class="t" style="left:739px;top:373px;width:39px;height:15px;line-height:15px;color:#C00000">93</b><i style="left:780px;top:370px;width:39px;height:19px;background:#F8CBAD"></i><b class="t" style="left:780px;top:373px;width:39px;height:15px;line-height:15px;color:#C00000">93</b><i style="left:821px;top:370px;width:39px;height:19px;background:#F8CBAD"></i><b class="t" style="left:821px;top:373px;width:39px;height:15px;line-height:15px;color:#C00000">88</b><i style="left:862px;top:370px;width:36px;height:19px;background:#F8CBAD"></i><b class="t" style="left:862px;top:373px;width:36px;height:15px;line-height:15px;color:#C00000">82</b><i style="left:900px;top:370px;width:36px;height:19px;background:#F8CBAD"></i><b class="t" style="left:900px;top:373px;width:36px;height:15px;line-height:15px;color:#C00000">78</b><i style="left:938px;top:370px;width:39px;height:19px;background:#F8CBAD"></i><b class="t" style="left:938px;top:373px;width:39px;height:15px;line-height:15px;color:#C00000">74</b><i style="left:979px;top:370px;width:39px;height:19px;background:#F8CBAD"></i><b class="t" style="left:979px;top:373px;width:39px;height:15px;line-height:15px;color:#C00000">71</b><i style="left:1020px;top:370px;width:36px;height:19px;background:#F8CBAD"></i><b class="t" style="left:1020px;top:373px;width:36px;height:15px;line-height:15px;color:#C00000">66</b><i style="left:1058px;top:370px;width:36px;height:19px;background:#F8CBAD"></i><b class="t" style="left:1058px;top:373px;width:36px;height:15px;line-height:15px;color:#C00000">62</b><i style="left:1096px;top:370px;width:36px;height:19px;background:#F8CBAD"></i><b class="t" style="left:1096px;top:373px;width:36px;height:15px;line-height:15px;color:#C00000">57</b><i style="left:1134px;top:370px;width:36px;height:19px;background:#F8CBAD"></i><b class="t" style="left:1134px;top:373px;width:36px;height:15px;line-height:15px;color:#C00000">55</b><i style="left:1172px;top:370px;width:36px;height:19px;background:#F8CBAD"></i><b class="t" style="left:1172px;top:373px;width:36px;height:15px;line-height:15px;color:#C00000">49</b><i style="left:1210px;top:370px;width:36px;height:19px;background:#F8CBAD"></i><b class="t" style="left:1210px;top:373px;width:36px;height:15px;line-height:15px;color:#C00000">43</b><i style="left:1248px;top:370px;width:36px;height:19px;background:#F8CBAD"></i><b class="t" style="left:1248px;top:373px;width:36px;height:15px;line-height:15px;color:#C00000">40</b><i style="left:1286px;top:370px;width:36px;height:19px;background:#F8CBAD"></i><b class="t" style="left:1286px;top:373px;width:36px;height:15px;line-height:15px;color:#C00000">38</b><i style="left:1324px;top:370px;width:39px;height:19px;background:#F8CBAD"></i><b class="t" style="left:1324px;top:373px;width:39px;height:15px;line-height:15px;color:#C00000">35</b><i style="left:1365px;top:370px;width:39px;height:19px;background:#F8CBAD"></i><b class="t" style="left:1365px;top:373px;width:39px;height:15px;line-height:15px;color:#C00000">30</b><i style="left:1406px;top:370px;width:39px;height:19px;background:#F8CBAD"></i><b class="t" style="left:1406px;top:373px;width:39px;height:15px;line-height:15px;color:#C00000">19</b><i style="left:1447px;top:370px;width:39px;height:19px;background:#F8CBAD"></i><b class="t" style="left:1447px;top:373px;width:39px;height:15px;line-height:15px;color:#C00000">14</b><i style="left:1488px;top:370px;width:39px;height:19px;background:#F8CBAD"></i><b class="t" style="left:1488px;top:373px;width:39px;height:15px;line-height:15px;color:#C00000">7</b><i style="left:1529px;top:370px;width:39px;height:19px;background:#F8CBAD"></i><b class="t" style="left:1529px;top:373px;width:39px;height:15px;line-height:15px;color:#C00000">1</b><i style="left:1570px;top:370px;width:39px;height:19px;background:#F8CBAD"></i><b class="t" style="left:1570px;top:373px;width:39px;height:15px;line-height:15px;color:#C00000">0</b><i style="left:1612px;top:371px;width:1px;height:15px;border:1px solid #63C384;background:linear-gradient(90deg,#63C384,#E6F5EB)"></i><b class="t" style="left:1611px;top:373px;width:64px;height:15px;line-height:15px">100</b><i style="left:1677px;top:370px;width:50px;height:19px;background:#FFC7CE"></i><b class="t" style="left:1677px;top:373px;width:50px;height:15px;line-height:15px;color:#9C0006">0</b><i style="left:1729px;top:370px;width:64px;height:19px;background:#FFC7CE"></i><b class="t" style="left:1729px;top:373px;width:64px;height:15px;line-height:15px;color:#9C0006">100%</b><b class="t" style="left:1795px;top:373px;width:44px;height:15px;line-height:15px">1.479</b><b class="t" style="left:1841px;top:373px;width:43px;height:15px;line-height:15px">11.710</b><i style="left:1px;top:389px;width:1885px;height:2px;background:#000"></i><i style="left:1px;top:391px;width:93px;height:19px;background:#DDEBF7"></i><b class="tl" style="left:3px;top:394px;width:91px;height:15px;line-height:15px;color:#000;letter-spacing:0.25px">NAVARRA</b><i style="left:96px;top:391px;width:37px;height:19px;background:#DDEBF7"></i><b class="t" style="left:96px;top:394px;width:37px;height:15px;line-height:15px;color:#000">32</b><b class="t" style="left:135px;top:394px;width:37px;height:15px;line-height:15px">32</b><b class="t" style="left:174px;top:394px;width:37px;height:15px;line-height:15px">32</b><b class="t" style="left:213px;top:394px;width:37px;height:15px;line-height:15px">31</b><b class="t" style="left:252px;top:394px;width:37px;height:15px;line-height:15px">31</b><b class="t" style="left:291px;top:394px;width:39px;height:15px;line-height:15px">31</b><b class="t" style="left:332px;top:394px;width:39px;height:15px;line-height:15px">30</b><b class="t" style="left:373px;top:394px;width:39px;height:15px;line-height:15px">29</b><b class="t" style="left:414px;top:394px;width:39px;height:15px;line-height:15px">29</b><b class="t" style="left:455px;top:394px;width:39px;height:15px;line-height:15px">29</b><b class="t" style="left:496px;top:394px;width:39px;height:15px;line-height:15px">29</b><b class="t" style="left:537px;top:394px;width:39px;height:15px;line-height:15px">29</b><b class="t" style="left:578px;top:394px;width:39px;height:15px;line-height:15px">29</b><b class="t" style="left:619px;top:394px;width:39px;height:15px;line-height:15px">27</b><b class="t" style="left:660px;top:394px;width:39px;height:15px;line-height:15px">26</b><b class="t" style="left:701px;top:394px;width:36px;height:15px;line-height:15px">26</b><b class="t" style="left:739px;top:394px;width:39px;height:15px;line-height:15px">23</b><b class="t" style="left:780px;top:394px;width:39px;height:15px;line-height:15px">22</b><b class="t" style="left:821px;top:394px;width:39px;height:15px;line-height:15px">21</b><b class="t" style="left:862px;top:394px;width:36px;height:15px;line-height:15px">21</b><b class="t" style="left:900px;top:394px;width:36px;height:15px;line-height:15px">20</b><b class="t" style="left:938px;top:394px;width:39px;height:15px;line-height:15px">19</b><b class="t" style="left:979px;top:394px;width:39px;height:15px;line-height:15px">19</b><b class="t" style="left:1020px;top:394px;width:36px;height:15px;line-height:15px">19</b><b class="t" style="left:1058px;top:394px;width:36px;height:15px;line-height:15px">18</b><b class="t" style="left:1096px;top:394px;width:36px;height:15px;line-height:15px">18</b><b class="t" style="left:1134px;top:394px;width:36px;height:15px;line-height:15px">18</b><b class="t" style="left:1172px;top:394px;width:36px;height:15px;line-height:15px">16</b><b class="t" style="left:1210px;top:394px;width:36px;height:15px;line-height:15px">16</b><b class="t" style="left:1248px;top:394px;width:36px;height:15px;line-height:15px">15</b><b class="t" style="left:1286px;top:394px;width:36px;height:15px;line-height:15px">12</b><b class="t" style="left:1324px;top:394px;width:39px;height:15px;line-height:15px">12</b><b class="t" style="left:1365px;top:394px;width:39px;height:15px;line-height:15px">12</b><b class="t" style="left:1406px;top:394px;width:39px;height:15px;line-height:15px">11</b><b class="t" style="left:1447px;top:394px;width:39px;height:15px;line-height:15px">10</b><b class="t" style="left:1488px;top:394px;width:39px;height:15px;line-height:15px">9</b><b class="t" style="left:1529px;top:394px;width:39px;height:15px;line-height:15px">8</b><b class="t" style="left:1570px;top:394px;width:39px;height:15px;line-height:15px">7</b><i style="left:1612px;top:392px;width:1px;height:17px;background:#63C384"></i><b class="t" style="left:1611px;top:394px;width:64px;height:15px;line-height:15px">25</b><i style="left:1678px;top:392px;width:1px;height:17px;background:#FFB628"></i><b class="t" style="left:1677px;top:394px;width:50px;height:15px;line-height:15px">7</b><i style="left:1729px;top:391px;width:64px;height:19px;background:#FFEB9C"></i><b class="t" style="left:1729px;top:394px;width:64px;height:15px;line-height:15px;color:#9C5700">78%</b><b class="t" style="left:1795px;top:394px;width:44px;height:15px;line-height:15px">860</b><b class="t" style="left:1841px;top:394px;width:43px;height:15px;line-height:15px">11.508</b><i style="left:1px;top:410px;width:1885px;height:2px;background:#000"></i><i style="left:1px;top:412px;width:93px;height:19px;background:#F8CBAD"></i><b class="tl" style="left:3px;top:415px;width:91px;height:15px;line-height:15px;color:#C00000;white-space:pre;letter-spacing:0.5px"> P.VASCO</b><i style="left:96px;top:412px;width:37px;height:19px;background:#F8CBAD"></i><i style="left:97px;top:413px;width:2px;height:17px;background:#008AEF"></i><b class="t" style="left:96px;top:415px;width:37px;height:15px;line-height:15px;color:#C00000">115</b><i style="left:135px;top:412px;width:37px;height:19px;background:#F8CBAD"></i><b class="t" style="left:135px;top:415px;width:37px;height:15px;line-height:15px;color:#C00000">113</b><i style="left:174px;top:412px;width:37px;height:19px;background:#F8CBAD"></i><b class="t" style="left:174px;top:415px;width:37px;height:15px;line-height:15px;color:#C00000">113</b><i style="left:213px;top:412px;width:37px;height:19px;background:#F8CBAD"></i><b class="t" style="left:213px;top:415px;width:37px;height:15px;line-height:15px;color:#C00000">113</b><i style="left:252px;top:412px;width:37px;height:19px;background:#F8CBAD"></i><b class="t" style="left:252px;top:415px;width:37px;height:15px;line-height:15px;color:#C00000">112</b><i style="left:291px;top:412px;width:39px;height:19px;background:#F8CBAD"></i><b class="t" style="left:291px;top:415px;width:39px;height:15px;line-height:15px;color:#C00000">110</b><i style="left:332px;top:412px;width:39px;height:19px;background:#F8CBAD"></i><b class="t" style="left:332px;top:415px;width:39px;height:15px;line-height:15px;color:#C00000">110</b><i style="left:373px;top:412px;width:39px;height:19px;background:#F8CBAD"></i><b class="t" style="left:373px;top:415px;width:39px;height:15px;line-height:15px;color:#C00000">109</b><i style="left:414px;top:412px;width:39px;height:19px;background:#F8CBAD"></i><b class="t" style="left:414px;top:415px;width:39px;height:15px;line-height:15px;color:#C00000">109</b><i style="left:455px;top:412px;width:39px;height:19px;background:#F8CBAD"></i><b class="t" style="left:455px;top:415px;width:39px;height:15px;line-height:15px;color:#C00000">108</b><i style="left:496px;top:412px;width:39px;height:19px;background:#F8CBAD"></i><b class="t" style="left:496px;top:415px;width:39px;height:15px;line-height:15px;color:#C00000">106</b><i style="left:537px;top:412px;width:39px;height:19px;background:#F8CBAD"></i><b class="t" style="left:537px;top:415px;width:39px;height:15px;line-height:15px;color:#C00000">103</b><i style="left:578px;top:412px;width:39px;height:19px;background:#F8CBAD"></i><b class="t" style="left:578px;top:415px;width:39px;height:15px;line-height:15px;color:#C00000">103</b><i style="left:619px;top:412px;width:39px;height:19px;background:#F8CBAD"></i><b class="t" style="left:619px;top:415px;width:39px;height:15px;line-height:15px;color:#C00000">102</b><i style="left:660px;top:412px;width:39px;height:19px;background:#F8CBAD"></i><b class="t" style="left:660px;top:415px;width:39px;height:15px;line-height:15px;color:#C00000">101</b><i style="left:701px;top:412px;width:36px;height:19px;background:#F8CBAD"></i><b class="t" style="left:701px;top:415px;width:36px;height:15px;line-height:15px;color:#C00000">96</b><i style="left:739px;top:412px;width:39px;height:19px;background:#F8CBAD"></i><b class="t" style="left:739px;top:415px;width:39px;height:15px;line-height:15px;color:#C00000">94</b><i style="left:780px;top:412px;width:39px;height:19px;background:#F8CBAD"></i><b class="t" style="left:780px;top:415px;width:39px;height:15px;line-height:15px;color:#C00000">91</b><i style="left:821px;top:412px;width:39px;height:19px;background:#F8CBAD"></i><b class="t" style="left:821px;top:415px;width:39px;height:15px;line-height:15px;color:#C00000">85</b><i style="left:862px;top:412px;width:36px;height:19px;background:#F8CBAD"></i><b class="t" style="left:862px;top:415px;width:36px;height:15px;line-height:15px;color:#C00000">82</b><i style="left:900px;top:412px;width:36px;height:19px;background:#F8CBAD"></i><b class="t" style="left:900px;top:415px;width:36px;height:15px;line-height:15px;color:#C00000">80</b><i style="left:938px;top:412px;width:39px;height:19px;background:#F8CBAD"></i><b class="t" style="left:938px;top:415px;width:39px;height:15px;line-height:15px;color:#C00000">77</b><i style="left:979px;top:412px;width:39px;height:19px;background:#F8CBAD"></i><b class="t" style="left:979px;top:415px;width:39px;height:15px;line-height:15px;color:#C00000">70</b><i style="left:1020px;top:412px;width:36px;height:19px;background:#F8CBAD"></i><b class="t" style="left:1020px;top:415px;width:36px;height:15px;line-height:15px;color:#C00000">69</b><i style="left:1058px;top:412px;width:36px;height:19px;background:#F8CBAD"></i><b class="t" style="left:1058px;top:415px;width:36px;height:15px;line-height:15px;color:#C00000">64</b><i style="left:1096px;top:412px;width:36px;height:19px;background:#F8CBAD"></i><b class="t" style="left:1096px;top:415px;width:36px;height:15px;line-height:15px;color:#C00000">58</b><i style="left:1134px;top:412px;width:36px;height:19px;background:#F8CBAD"></i><b class="t" style="left:1134px;top:415px;width:36px;height:15px;line-height:15px;color:#C00000">52</b><i style="left:1172px;top:412px;width:36px;height:19px;background:#F8CBAD"></i><b class="t" style="left:1172px;top:415px;width:36px;height:15px;line-height:15px;color:#C00000">49</b><i style="left:1210px;top:412px;width:36px;height:19px;background:#F8CBAD"></i><b class="t" style="left:1210px;top:415px;width:36px;height:15px;line-height:15px;color:#C00000">44</b><i style="left:1248px;top:412px;width:36px;height:19px;background:#F8CBAD"></i><b class="t" style="left:1248px;top:415px;width:36px;height:15px;line-height:15px;color:#C00000">37</b><i style="left:1286px;top:412px;width:36px;height:19px;background:#F8CBAD"></i><b class="t" style="left:1286px;top:415px;width:36px;height:15px;line-height:15px;color:#C00000">32</b><i style="left:1324px;top:412px;width:39px;height:19px;background:#F8CBAD"></i><b class="t" style="left:1324px;top:415px;width:39px;height:15px;line-height:15px;color:#C00000">27</b><i style="left:1365px;top:412px;width:39px;height:19px;background:#F8CBAD"></i><b class="t" style="left:1365px;top:415px;width:39px;height:15px;line-height:15px;color:#C00000">21</b><i style="left:1406px;top:412px;width:39px;height:19px;background:#F8CBAD"></i><b class="t" style="left:1406px;top:415px;width:39px;height:15px;line-height:15px;color:#C00000">16</b><i style="left:1447px;top:412px;width:39px;height:19px;background:#F8CBAD"></i><b class="t" style="left:1447px;top:415px;width:39px;height:15px;line-height:15px;color:#C00000">14</b><i style="left:1488px;top:412px;width:39px;height:19px;background:#F8CBAD"></i><b class="t" style="left:1488px;top:415px;width:39px;height:15px;line-height:15px;color:#C00000">8</b><i style="left:1529px;top:412px;width:39px;height:19px;background:#F8CBAD"></i><b class="t" style="left:1529px;top:415px;width:39px;height:15px;line-height:15px;color:#C00000">6</b><i style="left:1570px;top:412px;width:39px;height:19px;background:#F8CBAD"></i><b class="t" style="left:1570px;top:415px;width:39px;height:15px;line-height:15px;color:#C00000">0</b><i style="left:1612px;top:413px;width:1px;height:15px;border:1px solid #63C384;background:linear-gradient(90deg,#63C384,#E6F5EB)"></i><b class="t" style="left:1611px;top:415px;width:64px;height:15px;line-height:15px">115</b><i style="left:1677px;top:412px;width:50px;height:19px;background:#FFC7CE"></i><b class="t" style="left:1677px;top:415px;width:50px;height:15px;line-height:15px;color:#9C0006">0</b><i style="left:1729px;top:412px;width:64px;height:19px;background:#FFC7CE"></i><b class="t" style="left:1729px;top:415px;width:64px;height:15px;line-height:15px;color:#9C0006">100%</b><b class="t" style="left:1795px;top:415px;width:44px;height:15px;line-height:15px">127</b><b class="t" style="left:1841px;top:415px;width:43px;height:15px;line-height:15px">11.510</b><i style="left:1px;top:431px;width:1885px;height:2px;background:#000"></i><i style="left:1px;top:433px;width:93px;height:19px;background:#F8CBAD"></i><b class="tl" style="left:3px;top:436px;width:91px;height:15px;line-height:15px;color:#C00000;letter-spacing:0.44px">C.VALEN.</b><i style="left:96px;top:433px;width:37px;height:19px;background:#DDEBF7"></i><i style="left:97px;top:434px;width:1px;height:15px;border:1px solid #008AEF;background:linear-gradient(90deg,#008AEF,#D6ECFC)"></i><b class="t" style="left:96px;top:436px;width:37px;height:15px;line-height:15px;color:#000">232</b><i style="left:135px;top:433px;width:37px;height:19px;background:#F8CBAD"></i><b class="t" style="left:135px;top:436px;width:37px;height:15px;line-height:15px;color:#C00000">232</b><i style="left:174px;top:433px;width:37px;height:19px;background:#F8CBAD"></i><b class="t" style="left:174px;top:436px;width:37px;height:15px;line-height:15px;color:#C00000">232</b><i style="left:213px;top:433px;width:37px;height:19px;background:#F8CBAD"></i><b class="t" style="left:213px;top:436px;width:37px;height:15px;line-height:15px;color:#C00000">232</b><i style="left:252px;top:433px;width:37px;height:19px;background:#F8CBAD"></i><b class="t" style="left:252px;top:436px;width:37px;height:15px;line-height:15px;color:#C00000">232</b><i style="left:291px;top:433px;width:39px;height:19px;background:#F8CBAD"></i><b class="t" style="left:291px;top:436px;width:39px;height:15px;line-height:15px;color:#C00000">232</b><i style="left:332px;top:433px;width:39px;height:19px;background:#F8CBAD"></i><b class="t" style="left:332px;top:436px;width:39px;height:15px;line-height:15px;color:#C00000">232</b><i style="left:373px;top:433px;width:39px;height:19px;background:#F8CBAD"></i><b class="t" style="left:373px;top:436px;width:39px;height:15px;line-height:15px;color:#C00000">232</b><i style="left:414px;top:433px;width:39px;height:19px;background:#F8CBAD"></i><b class="t" style="left:414px;top:436px;width:39px;height:15px;line-height:15px;color:#C00000">231</b><i style="left:455px;top:433px;width:39px;height:19px;background:#F8CBAD"></i><b class="t" style="left:455px;top:436px;width:39px;height:15px;line-height:15px;color:#C00000">231</b><i style="left:496px;top:433px;width:39px;height:19px;background:#F8CBAD"></i><b class="t" style="left:496px;top:436px;width:39px;height:15px;line-height:15px;color:#C00000">231</b><i style="left:537px;top:433px;width:39px;height:19px;background:#F8CBAD"></i><b class="t" style="left:537px;top:436px;width:39px;height:15px;line-height:15px;color:#C00000">231</b><i style="left:578px;top:433px;width:39px;height:19px;background:#F8CBAD"></i><b class="t" style="left:578px;top:436px;width:39px;height:15px;line-height:15px;color:#C00000">230</b><i style="left:619px;top:433px;width:39px;height:19px;background:#F8CBAD"></i><b class="t" style="left:619px;top:436px;width:39px;height:15px;line-height:15px;color:#C00000">230</b><i style="left:660px;top:433px;width:39px;height:19px;background:#F8CBAD"></i><b class="t" style="left:660px;top:436px;width:39px;height:15px;line-height:15px;color:#C00000">230</b><i style="left:701px;top:433px;width:36px;height:19px;background:#F8CBAD"></i><b class="t" style="left:701px;top:436px;width:36px;height:15px;line-height:15px;color:#C00000">227</b><i style="left:739px;top:433px;width:39px;height:19px;background:#F8CBAD"></i><b class="t" style="left:739px;top:436px;width:39px;height:15px;line-height:15px;color:#C00000">225</b><i style="left:780px;top:433px;width:39px;height:19px;background:#F8CBAD"></i><b class="t" style="left:780px;top:436px;width:39px;height:15px;line-height:15px;color:#C00000">221</b><i style="left:821px;top:433px;width:39px;height:19px;background:#F8CBAD"></i><b class="t" style="left:821px;top:436px;width:39px;height:15px;line-height:15px;color:#C00000">216</b><i style="left:862px;top:433px;width:36px;height:19px;background:#F8CBAD"></i><b class="t" style="left:862px;top:436px;width:36px;height:15px;line-height:15px;color:#C00000">209</b><i style="left:900px;top:433px;width:36px;height:19px;background:#F8CBAD"></i><b class="t" style="left:900px;top:436px;width:36px;height:15px;line-height:15px;color:#C00000">204</b><i style="left:938px;top:433px;width:39px;height:19px;background:#F8CBAD"></i><b class="t" style="left:938px;top:436px;width:39px;height:15px;line-height:15px;color:#C00000">195</b><i style="left:979px;top:433px;width:39px;height:19px;background:#F8CBAD"></i><b class="t" style="left:979px;top:436px;width:39px;height:15px;line-height:15px;color:#C00000">188</b><i style="left:1020px;top:433px;width:36px;height:19px;background:#F8CBAD"></i><b class="t" style="left:1020px;top:436px;width:36px;height:15px;line-height:15px;color:#C00000">176</b><i style="left:1058px;top:433px;width:36px;height:19px;background:#F8CBAD"></i><b class="t" style="left:1058px;top:436px;width:36px;height:15px;line-height:15px;color:#C00000">160</b><i style="left:1096px;top:433px;width:36px;height:19px;background:#F8CBAD"></i><b class="t" style="left:1096px;top:436px;width:36px;height:15px;line-height:15px;color:#C00000">142</b><i style="left:1134px;top:433px;width:36px;height:19px;background:#F8CBAD"></i><b class="t" style="left:1134px;top:436px;width:36px;height:15px;line-height:15px;color:#C00000">121</b><i style="left:1172px;top:433px;width:36px;height:19px;background:#F8CBAD"></i><b class="t" style="left:1172px;top:436px;width:36px;height:15px;line-height:15px;color:#C00000">113</b><i style="left:1210px;top:433px;width:36px;height:19px;background:#F8CBAD"></i><b class="t" style="left:1210px;top:436px;width:36px;height:15px;line-height:15px;color:#C00000">101</b><i style="left:1248px;top:433px;width:36px;height:19px;background:#F8CBAD"></i><b class="t" style="left:1248px;top:436px;width:36px;height:15px;line-height:15px;color:#C00000">90</b><i style="left:1286px;top:433px;width:36px;height:19px;background:#F8CBAD"></i><b class="t" style="left:1286px;top:436px;width:36px;height:15px;line-height:15px;color:#C00000">81</b><i style="left:1324px;top:433px;width:39px;height:19px;background:#F8CBAD"></i><b class="t" style="left:1324px;top:436px;width:39px;height:15px;line-height:15px;color:#C00000">71</b><i style="left:1365px;top:433px;width:39px;height:19px;background:#F8CBAD"></i><b class="t" style="left:1365px;top:436px;width:39px;height:15px;line-height:15px;color:#C00000">59</b><i style="left:1406px;top:433px;width:39px;height:19px;background:#F8CBAD"></i><b class="t" style="left:1406px;top:436px;width:39px;height:15px;line-height:15px;color:#C00000">42</b><i style="left:1447px;top:433px;width:39px;height:19px;background:#F8CBAD"></i><b class="t" style="left:1447px;top:436px;width:39px;height:15px;line-height:15px;color:#C00000">26</b><i style="left:1488px;top:433px;width:39px;height:19px;background:#F8CBAD"></i><b class="t" style="left:1488px;top:436px;width:39px;height:15px;line-height:15px;color:#C00000">7</b><i style="left:1612px;top:434px;width:5px;height:15px;border:1px solid #63C384;background:linear-gradient(90deg,#63C384,#E6F5EB)"></i><b class="t" style="left:1611px;top:436px;width:64px;height:15px;line-height:15px">232</b><i style="left:1677px;top:433px;width:50px;height:19px;background:#FFC7CE"></i><b class="t" style="left:1677px;top:436px;width:50px;height:15px;line-height:15px;color:#9C0006">0</b><i style="left:1729px;top:433px;width:64px;height:19px;background:#FFC7CE"></i><b class="t" style="left:1729px;top:436px;width:64px;height:15px;line-height:15px;color:#9C0006">100%</b><b class="t" style="left:1795px;top:436px;width:44px;height:15px;line-height:15px">2.339</b><b class="t" style="left:1841px;top:436px;width:43px;height:15px;line-height:15px">11.711</b><i style="left:1px;top:452px;width:1885px;height:2px;background:#000"></i><i style="left:1px;top:454px;width:93px;height:19px;background:#FFF2CC"></i><b class="tl" style="left:3px;top:457px;width:91px;height:15px;line-height:15px;color:#000;letter-spacing:0.3px">TOTAL Oferta</b><i style="left:96px;top:454px;width:37px;height:19px;background:#fff"></i><i style="left:97px;top:455px;width:34px;height:15px;border:1px solid #008AEF;background:linear-gradient(90deg,#008AEF,#D6ECFC)"></i><b class="t" style="left:96px;top:457px;width:37px;height:15px;line-height:15px;color:#000">2.492</b><i style="left:135px;top:454px;width:37px;height:19px;background:#FFF2CC"></i><b class="t" style="left:135px;top:457px;width:37px;height:15px;line-height:15px">2487</b><i style="left:174px;top:454px;width:37px;height:19px;background:#FFF2CC"></i><b class="t" style="left:174px;top:457px;width:37px;height:15px;line-height:15px">2486</b><i style="left:213px;top:454px;width:37px;height:19px;background:#FFF2CC"></i><b class="t" style="left:213px;top:457px;width:37px;height:15px;line-height:15px">2485</b><i style="left:252px;top:454px;width:37px;height:19px;background:#FFF2CC"></i><b class="t" style="left:252px;top:457px;width:37px;height:15px;line-height:15px">2479</b><i style="left:291px;top:454px;width:39px;height:19px;background:#FFF2CC"></i><b class="t" style="left:291px;top:457px;width:39px;height:15px;line-height:15px">2469</b><i style="left:332px;top:454px;width:39px;height:19px;background:#FFF2CC"></i><b class="t" style="left:332px;top:457px;width:39px;height:15px;line-height:15px">2462</b><i style="left:373px;top:454px;width:39px;height:19px;background:#FFF2CC"></i><b class="t" style="left:373px;top:457px;width:39px;height:15px;line-height:15px">2456</b><i style="left:414px;top:454px;width:39px;height:19px;background:#FFF2CC"></i><b class="t" style="left:414px;top:457px;width:39px;height:15px;line-height:15px">2448</b><i style="left:455px;top:454px;width:39px;height:19px;background:#FFF2CC"></i><b class="t" style="left:455px;top:457px;width:39px;height:15px;line-height:15px">2443</b><i style="left:496px;top:454px;width:39px;height:19px;background:#FFF2CC"></i><b class="t" style="left:496px;top:457px;width:39px;height:15px;line-height:15px">2431</b><i style="left:537px;top:454px;width:39px;height:19px;background:#FFF2CC"></i><b class="t" style="left:537px;top:457px;width:39px;height:15px;line-height:15px">2412</b><i style="left:578px;top:454px;width:39px;height:19px;background:#FFF2CC"></i><b class="t" style="left:578px;top:457px;width:39px;height:15px;line-height:15px">2404</b><i style="left:619px;top:454px;width:39px;height:19px;background:#FFF2CC"></i><b class="t" style="left:619px;top:457px;width:39px;height:15px;line-height:15px">2391</b><i style="left:660px;top:454px;width:39px;height:19px;background:#FFF2CC"></i><b class="t" style="left:660px;top:457px;width:39px;height:15px;line-height:15px">2372</b><i style="left:701px;top:454px;width:36px;height:19px;background:#FFF2CC"></i><b class="t" style="left:701px;top:457px;width:36px;height:15px;line-height:15px">2350</b><i style="left:739px;top:454px;width:39px;height:19px;background:#FFF2CC"></i><b class="t" style="left:739px;top:457px;width:39px;height:15px;line-height:15px">2325</b><i style="left:780px;top:454px;width:39px;height:19px;background:#FFF2CC"></i><b class="t" style="left:780px;top:457px;width:39px;height:15px;line-height:15px">2291</b><i style="left:821px;top:454px;width:39px;height:19px;background:#FFF2CC"></i><b class="t" style="left:821px;top:457px;width:39px;height:15px;line-height:15px">2250</b><i style="left:862px;top:454px;width:36px;height:19px;background:#FFF2CC"></i><b class="t" style="left:862px;top:457px;width:36px;height:15px;line-height:15px">2209</b><i style="left:900px;top:454px;width:36px;height:19px;background:#FFF2CC"></i><b class="t" style="left:900px;top:457px;width:36px;height:15px;line-height:15px">2149</b><i style="left:938px;top:454px;width:39px;height:19px;background:#FFF2CC"></i><b class="t" style="left:938px;top:457px;width:39px;height:15px;line-height:15px">2092</b><i style="left:979px;top:454px;width:39px;height:19px;background:#FFF2CC"></i><b class="t" style="left:979px;top:457px;width:39px;height:15px;line-height:15px">2020</b><i style="left:1020px;top:454px;width:36px;height:19px;background:#FFF2CC"></i><b class="t" style="left:1020px;top:457px;width:36px;height:15px;line-height:15px">1940</b><i style="left:1058px;top:454px;width:36px;height:19px;background:#FFF2CC"></i><b class="t" style="left:1058px;top:457px;width:36px;height:15px;line-height:15px">1848</b><i style="left:1096px;top:454px;width:36px;height:19px;background:#FFF2CC"></i><b class="t" style="left:1096px;top:457px;width:36px;height:15px;line-height:15px">1729</b><i style="left:1134px;top:454px;width:36px;height:19px;background:#FFF2CC"></i><b class="t" style="left:1134px;top:457px;width:36px;height:15px;line-height:15px">1619</b><i style="left:1172px;top:454px;width:36px;height:19px;background:#FFF2CC"></i><b class="t" style="left:1172px;top:457px;width:36px;height:15px;line-height:15px">1506</b><i style="left:1210px;top:454px;width:36px;height:19px;background:#FFF2CC"></i><b class="t" style="left:1210px;top:457px;width:36px;height:15px;line-height:15px">1405</b><i style="left:1248px;top:454px;width:36px;height:19px;background:#FFF2CC"></i><b class="t" style="left:1248px;top:457px;width:36px;height:15px;line-height:15px">1309</b><i style="left:1286px;top:454px;width:36px;height:19px;background:#FFF2CC"></i><b class="t" style="left:1286px;top:457px;width:36px;height:15px;line-height:15px">1200</b><i style="left:1324px;top:454px;width:39px;height:19px;background:#FFF2CC"></i><b class="t" style="left:1324px;top:457px;width:39px;height:15px;line-height:15px">1082</b><i style="left:1365px;top:454px;width:39px;height:19px;background:#FFF2CC"></i><b class="t" style="left:1365px;top:457px;width:39px;height:15px;line-height:15px">976</b><i style="left:1406px;top:454px;width:39px;height:19px;background:#FFF2CC"></i><b class="t" style="left:1406px;top:457px;width:39px;height:15px;line-height:15px">841</b><i style="left:1447px;top:454px;width:39px;height:19px;background:#FFF2CC"></i><b class="t" style="left:1447px;top:457px;width:39px;height:15px;line-height:15px">727</b><i style="left:1488px;top:454px;width:39px;height:19px;background:#FFF2CC"></i><b class="t" style="left:1488px;top:457px;width:39px;height:15px;line-height:15px">567</b><i style="left:1529px;top:454px;width:39px;height:19px;background:#FFF2CC"></i><b class="t" style="left:1529px;top:457px;width:39px;height:15px;line-height:15px">459</b><i style="left:1570px;top:454px;width:39px;height:19px;background:#FFF2CC"></i><b class="t" style="left:1570px;top:457px;width:39px;height:15px;line-height:15px">246</b><i style="left:1612px;top:455px;width:61px;height:15px;border:1px solid #63C384;background:linear-gradient(90deg,#63C384,#E6F5EB)"></i><b class="t" style="left:1611px;top:457px;width:64px;height:15px;line-height:15px">2.246</b><i style="left:1678px;top:455px;width:48px;height:15px;border:1px solid #FFB628;background:linear-gradient(90deg,#FFB628,#FFF0D4)"></i><b class="t" style="left:1677px;top:457px;width:50px;height:15px;line-height:15px">246</b><i style="left:1729px;top:454px;width:64px;height:19px;background:#FFEB9C"></i><b class="t" style="left:1729px;top:457px;width:64px;height:15px;line-height:15px;color:#9C5700">90%</b><i style="left:1795px;top:454px;width:44px;height:19px;background:#C6E0B4"></i><b class="t" style="left:1795px;top:457px;width:44px;height:15px;line-height:15px">17</b><i style="left:1841px;top:454px;width:43px;height:19px;background:#C6E0B4"></i><b class="t" style="left:1841px;top:457px;width:43px;height:15px;line-height:15px">11.750</b><i style="left:1px;top:473px;width:1885px;height:2px;background:#000"></i><i style="left:94px;top:1px;width:2px;height:474px;background:#000"></i><i style="left:133px;top:1px;width:2px;height:474px;background:#000"></i><i style="left:172px;top:21px;width:2px;height:454px;background:#000"></i><i style="left:211px;top:21px;width:2px;height:454px;background:#000"></i><i style="left:250px;top:1px;width:2px;height:474px;background:#000"></i><i style="left:289px;top:21px;width:2px;height:454px;background:#000"></i><i style="left:330px;top:21px;width:2px;height:454px;background:#000"></i><i style="left:371px;top:1px;width:2px;height:474px;background:#000"></i><i style="left:412px;top:21px;width:2px;height:454px;background:#000"></i><i style="left:453px;top:21px;width:2px;height:454px;background:#000"></i><i style="left:494px;top:1px;width:2px;height:474px;background:#000"></i><i style="left:535px;top:21px;width:2px;height:454px;background:#000"></i><i style="left:576px;top:21px;width:2px;height:454px;background:#000"></i><i style="left:617px;top:1px;width:2px;height:474px;background:#000"></i><i style="left:658px;top:21px;width:2px;height:454px;background:#000"></i><i style="left:699px;top:21px;width:2px;height:454px;background:#000"></i><i style="left:737px;top:1px;width:2px;height:474px;background:#000"></i><i style="left:778px;top:21px;width:2px;height:454px;background:#000"></i><i style="left:819px;top:21px;width:2px;height:454px;background:#000"></i><i style="left:860px;top:1px;width:2px;height:474px;background:#000"></i><i style="left:898px;top:21px;width:2px;height:454px;background:#000"></i><i style="left:936px;top:21px;width:2px;height:454px;background:#000"></i><i style="left:977px;top:1px;width:2px;height:474px;background:#000"></i><i style="left:1018px;top:21px;width:2px;height:454px;background:#000"></i><i style="left:1056px;top:21px;width:2px;height:454px;background:#000"></i><i style="left:1094px;top:1px;width:2px;height:474px;background:#000"></i><i style="left:1132px;top:21px;width:2px;height:454px;background:#000"></i><i style="left:1170px;top:21px;width:2px;height:454px;background:#000"></i><i style="left:1208px;top:1px;width:2px;height:474px;background:#000"></i><i style="left:1246px;top:21px;width:2px;height:454px;background:#000"></i><i style="left:1284px;top:21px;width:2px;height:454px;background:#000"></i><i style="left:1322px;top:1px;width:2px;height:474px;background:#000"></i><i style="left:1363px;top:21px;width:2px;height:454px;background:#000"></i><i style="left:1404px;top:21px;width:2px;height:454px;background:#000"></i><i style="left:1445px;top:1px;width:2px;height:474px;background:#000"></i><i style="left:1486px;top:21px;width:2px;height:454px;background:#000"></i><i style="left:1527px;top:21px;width:2px;height:454px;background:#000"></i><i style="left:1568px;top:1px;width:2px;height:474px;background:#000"></i><i style="left:1609px;top:1px;width:2px;height:474px;background:#000"></i><i style="left:1675px;top:1px;width:2px;height:474px;background:#000"></i><i style="left:1727px;top:1px;width:2px;height:474px;background:#000"></i><i style="left:1793px;top:1px;width:2px;height:474px;background:#000"></i><i style="left:1839px;top:1px;width:2px;height:474px;background:#000"></i><i style="left:1884px;top:1px;width:2px;height:474px;background:#000"></i><i style="left:1px;top:475px;width:1885px;height:20px;background:#00B050"></i><i style="left:1px;top:495px;width:1885px;height:42px;background:#DDEBF7"></i><b class="ft" style="left:1px;top:476px;width:1884px;height:19px;line-height:19px;color:#fff">sesión extraordinaria de adjudicación el miércoles 24 de abril de 2024 a partir de las 10 horas</b><b class="ft" style="left:1px;top:497px;width:1884px;height:19px;line-height:19px;white-space:pre">Elaborado por Victor J. Quesada (@victorjqv ) - www.casimedicos.com - 24/04/2024 -  Fuente: Ministerio de Sanidad</b><b class="ft" style="left:1px;top:518px;width:1884px;height:19px;line-height:19px">Si tienes alguna duda, buscas compañeros de piso o necesitas ayuda, los voluntarios en <u>casimedicos.com/foro</u> pueden ayudarte</b><i style="left:1px;top:537px;width:93px;height:1px;background:#C6E0B4"></i><i style="left:135px;top:537px;width:1475px;height:1px;background:#C6E0B4"></i><i style="left:94px;top:537px;width:2px;height:1px;background:#000"></i><i style="left:172px;top:537px;width:2px;height:1px;background:#000"></i><i style="left:211px;top:537px;width:2px;height:1px;background:#000"></i><i style="left:250px;top:537px;width:2px;height:1px;background:#000"></i><i style="left:289px;top:537px;width:2px;height:1px;background:#000"></i><i style="left:330px;top:537px;width:2px;height:1px;background:#000"></i><i style="left:371px;top:537px;width:2px;height:1px;background:#000"></i><i style="left:412px;top:537px;width:2px;height:1px;background:#000"></i><i style="left:453px;top:537px;width:2px;height:1px;background:#000"></i><i style="left:494px;top:537px;width:2px;height:1px;background:#000"></i><i style="left:535px;top:537px;width:2px;height:1px;background:#000"></i><i style="left:576px;top:537px;width:2px;height:1px;background:#000"></i><i style="left:617px;top:537px;width:2px;height:1px;background:#000"></i><i style="left:658px;top:537px;width:2px;height:1px;background:#000"></i><i style="left:699px;top:537px;width:2px;height:1px;background:#000"></i><i style="left:737px;top:537px;width:2px;height:1px;background:#000"></i><i style="left:778px;top:537px;width:2px;height:1px;background:#000"></i><i style="left:819px;top:537px;width:2px;height:1px;background:#000"></i><i style="left:860px;top:537px;width:2px;height:1px;background:#000"></i><i style="left:898px;top:537px;width:2px;height:1px;background:#000"></i><i style="left:936px;top:537px;width:2px;height:1px;background:#000"></i><i style="left:977px;top:537px;width:2px;height:1px;background:#000"></i><i style="left:1018px;top:537px;width:2px;height:1px;background:#000"></i><i style="left:1056px;top:537px;width:2px;height:1px;background:#000"></i><i style="left:1094px;top:537px;width:2px;height:1px;background:#000"></i><i style="left:1132px;top:537px;width:2px;height:1px;background:#000"></i><i style="left:1170px;top:537px;width:2px;height:1px;background:#000"></i><i style="left:1208px;top:537px;width:2px;height:1px;background:#000"></i><i style="left:1246px;top:537px;width:2px;height:1px;background:#000"></i><i style="left:1284px;top:537px;width:2px;height:1px;background:#000"></i><i style="left:1322px;top:537px;width:2px;height:1px;background:#000"></i><i style="left:1363px;top:537px;width:2px;height:1px;background:#000"></i><i style="left:1404px;top:537px;width:2px;height:1px;background:#000"></i><i style="left:1445px;top:537px;width:2px;height:1px;background:#000"></i><i style="left:1486px;top:537px;width:2px;height:1px;background:#000"></i><i style="left:1527px;top:537px;width:2px;height:1px;background:#000"></i><i style="left:1568px;top:537px;width:2px;height:1px;background:#000"></i></div><script>(function(){try{var c=document.createElement('canvas').getContext('2d');var t='0123456789ABCMWxyz';c.font='bold 40px monospace';var a=c.measureText(t).width;c.font='bold 40px '+"Carlito"+', monospace';var b=c.measureText(t).width;if(Math.abs(a-b)<0.5){document.body.className='nc';}}catch(e){}})();</script></body></html>
